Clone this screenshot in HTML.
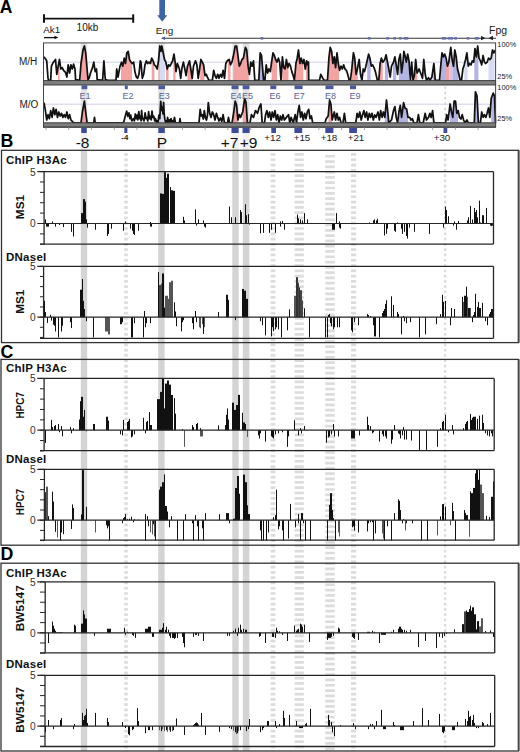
<!DOCTYPE html>
<html><head><meta charset="utf-8"><style>
html,body{margin:0;padding:0;background:#fff;}
body{width:520px;height:752px;overflow:hidden;font-family:"Liberation Sans",sans-serif;}
svg{display:block;}
</style></head><body>
<svg width="520" height="752" viewBox="0 0 520 752">
<rect width="520" height="752" fill="#fff"/>
<rect x="80.8" y="43" width="6.400000000000006" height="84" fill="#e2e2e2"/>
<rect x="80.8" y="133" width="6.400000000000006" height="17" fill="#f0f0f0"/>
<rect x="80.8" y="150" width="6.400000000000006" height="601" fill="#d4d4d4"/>
<rect x="158.2" y="43" width="6.400000000000006" height="84" fill="#e2e2e2"/>
<rect x="158.2" y="133" width="6.400000000000006" height="17" fill="#f0f0f0"/>
<rect x="158.2" y="150" width="6.400000000000006" height="601" fill="#d4d4d4"/>
<rect x="232.3" y="43" width="6.399999999999977" height="84" fill="#e2e2e2"/>
<rect x="232.3" y="133" width="6.399999999999977" height="17" fill="#f0f0f0"/>
<rect x="232.3" y="150" width="6.399999999999977" height="601" fill="#d4d4d4"/>
<rect x="242.8" y="43" width="6.599999999999994" height="84" fill="#e2e2e2"/>
<rect x="242.8" y="133" width="6.599999999999994" height="17" fill="#f0f0f0"/>
<rect x="242.8" y="150" width="6.599999999999994" height="601" fill="#d4d4d4"/>
<line x1="126.0" y1="153.1" x2="126.0" y2="751" stroke="#dcdcdc" stroke-width="3.5999999999999943" stroke-dasharray="2.7 2.59"/>
<line x1="273.0" y1="153.1" x2="273.0" y2="751" stroke="#dcdcdc" stroke-width="4.7999999999999545" stroke-dasharray="2.7 2.59"/>
<line x1="299.20000000000005" y1="153.1" x2="299.20000000000005" y2="751" stroke="#dcdcdc" stroke-width="9.199999999999989" stroke-dasharray="2.7 2.59"/>
<line x1="330.0" y1="154.9" x2="330.0" y2="751" stroke="#dcdcdc" stroke-width="9.600000000000023" stroke-dasharray="2.7 2.59"/>
<line x1="353.6" y1="153.1" x2="353.6" y2="751" stroke="#dcdcdc" stroke-width="5.199999999999989" stroke-dasharray="2.7 2.59"/>
<line x1="445.15" y1="153.1" x2="445.15" y2="751" stroke="#dcdcdc" stroke-width="2.3000000000000114" stroke-dasharray="2.7 2.59"/>
<line x1="43.5" y1="18.6" x2="133.5" y2="18.6" stroke="#111" stroke-width="1.8"/>
<line x1="44" y1="14.3" x2="44" y2="22.8" stroke="#111" stroke-width="2"/>
<line x1="133.2" y1="14.3" x2="133.2" y2="22.8" stroke="#111" stroke-width="2"/>
<text x="76.6" y="30.9" font-family="Liberation Sans, sans-serif" font-size="10" fill="#111">10kb</text>
<text x="43.3" y="33.3" font-family="Liberation Sans, sans-serif" font-size="9.8" fill="#111">Ak1</text>
<line x1="44" y1="37.6" x2="55" y2="37.6" stroke="#111" stroke-width="1.3"/>
<path d="M54.5,35.8 L58.5,37.6 L54.5,39.2 Z" fill="#111"/>
<path d="M159.3,0 L165,0 L165,15.2 L167.3,15.2 L162.2,21.8 L157.2,15.2 L159.3,15.2 Z" fill="#3b66a6"/>
<text x="155.8" y="33.5" font-family="Liberation Sans, sans-serif" font-size="9.8" fill="#222">Eng</text>
<text x="489" y="33.5" font-family="Liberation Sans, sans-serif" font-size="10.5" fill="#222">Fpg</text>
<line x1="162" y1="38.3" x2="496" y2="38.3" stroke="#333" stroke-width="1.1"/>
<path d="M161,38.3 L165,36.6 L165,40 Z" fill="#4a5a9e"/>
<rect x="260.7" y="37" width="2.6" height="2.6" fill="#6670b0"/>
<rect x="367.9" y="37" width="2.6" height="2.6" fill="#6670b0"/>
<rect x="386.2" y="37" width="2.6" height="2.6" fill="#6670b0"/>
<rect x="393.3" y="37" width="2.6" height="2.6" fill="#6670b0"/>
<rect x="399.09999999999997" y="37" width="2.6" height="2.6" fill="#6670b0"/>
<rect x="403.7" y="37" width="2.6" height="2.6" fill="#6670b0"/>
<rect x="405.7" y="37" width="2.6" height="2.6" fill="#6670b0"/>
<rect x="441.7" y="37" width="2.6" height="2.6" fill="#6670b0"/>
<rect x="443.7" y="37" width="2.6" height="2.6" fill="#6670b0"/>
<rect x="447.7" y="37" width="2.6" height="2.6" fill="#6670b0"/>
<rect x="450.4" y="37" width="2.6" height="2.6" fill="#6670b0"/>
<rect x="454.3" y="37" width="2.6" height="2.6" fill="#6670b0"/>
<rect x="466.7" y="37" width="2.6" height="2.6" fill="#6670b0"/>
<rect x="474.7" y="37" width="2.6" height="2.6" fill="#6670b0"/>
<rect x="476.2" y="37" width="2.6" height="2.6" fill="#6670b0"/>
<path d="M481,35.8 L485.5,38.3 L481,40.3 Z" fill="#222"/>
<path d="M493,35.8 L488.5,38.3 L493,40.3 Z" fill="#222"/>
<text x="-0.3" y="12.6" font-family="Liberation Sans, sans-serif" font-size="17.5" font-weight="bold" fill="#000">A</text>
<line x1="43.5" y1="62.2" x2="495.6" y2="62.2" stroke="#c9c9e6" stroke-width="0.9"/>
<line x1="43.5" y1="104.2" x2="495.6" y2="104.2" stroke="#c9c9e6" stroke-width="0.9"/>
<clipPath id="cmh"><polygon points="44.0,80.6 44.0,56.8 46.7,60.8 48.0,78.3 48.7,80.4 50.7,80.4 51.4,66.2 53.4,62.2 55.5,59.5 56.8,74.3 58.2,66.2 59.5,59.5 60.8,69.0 62.2,67.6 63.5,70.3 65.5,72.3 66.9,77.0 68.2,64.9 69.6,73.0 70.9,64.9 72.3,69.0 73.6,64.2 75.0,69.0 75.6,79.7 79.7,80.4 81.0,63.5 83.0,50.0 84.4,46.0 85.7,52.8 87.1,69.0 88.0,79.7 89.1,78.3 90.5,73.0 92.5,67.6 93.8,62.2 95.2,71.6 96.5,69.0 97.2,79.7 102.6,80.4 103.9,60.8 105.3,79.7 108.0,80.4 116.0,80.4 116.7,69.0 118.0,77.0 120.0,66.2 121.5,62.2 122.8,66.2 124.2,58.2 125.5,63.5 126.8,52.8 128.2,51.4 129.5,59.5 130.9,62.2 132.2,63.5 133.6,62.2 134.9,71.6 136.3,77.0 137.6,78.3 139.0,74.3 140.3,60.8 141.0,62.2 142.3,78.3 143.7,74.3 145.0,64.9 146.4,60.8 147.7,63.5 149.0,62.2 150.4,63.5 151.7,58.2 153.1,60.8 154.4,64.9 155.8,66.2 157.1,69.0 158.5,60.8 159.8,46.0 160.9,51.4 161.8,46.0 163.2,52.8 164.5,59.5 165.9,62.2 167.2,69.0 168.6,64.9 169.9,66.2 171.3,63.5 172.6,60.8 174.0,54.1 175.3,63.5 176.0,71.6 177.4,63.5 179.4,69.0 180.7,78.3 182.0,67.6 183.4,62.2 184.8,69.0 186.1,75.6 187.5,66.2 189.5,60.8 190.8,69.0 192.2,78.3 193.5,66.2 195.5,60.8 196.9,64.9 198.2,78.3 199.6,69.0 200.9,59.5 202.3,62.2 203.6,64.9 205.0,75.6 206.3,74.3 207.6,77.7 209.0,80.4 212.4,80.4 213.7,70.3 215.0,75.6 216.4,78.3 217.7,74.3 219.0,78.3 220.4,74.3 221.8,77.0 223.1,70.3 224.5,78.3 225.8,63.5 227.2,60.8 229.2,59.5 230.5,64.9 231.9,62.2 233.2,56.8 235.2,46.0 236.6,46.0 237.9,55.5 239.3,66.2 240.6,63.5 242.0,59.5 243.4,58.2 245.4,47.4 246.7,50.0 248.1,66.2 249.4,74.3 250.8,62.2 252.1,66.2 253.5,60.8 254.8,80.4 258.8,80.4 260.2,52.8 261.5,55.5 263.6,80.4 264.9,80.4 266.2,64.9 267.6,73.0 268.9,69.0 270.3,71.6 271.6,62.2 273.0,52.8 274.3,55.5 275.7,59.5 277.0,62.2 278.4,58.2 279.7,62.2 281.0,80.4 282.4,56.8 283.7,67.6 285.1,69.0 286.4,59.5 287.8,67.6 289.1,63.5 290.5,66.2 291.8,71.6 293.2,75.6 294.5,80.4 295.9,63.5 297.2,58.2 298.5,50.0 299.9,63.5 301.2,58.2 302.6,63.5 303.9,59.5 305.3,69.0 306.6,60.8 308.0,64.9 308.5,62.2 308.7,80.4 319.5,80.4 320.8,74.3 322.8,78.3 324.2,80.4 327.5,80.4 328.9,58.2 330.2,47.4 331.6,51.4 332.9,63.5 334.3,56.8 335.6,67.6 337.0,52.8 338.3,63.5 339.6,70.3 341.0,66.2 342.3,69.0 343.7,64.9 345.0,69.0 346.4,70.3 347.7,74.3 349.1,79.7 350.4,80.4 351.8,69.0 353.4,52.8 354.7,58.2 356.1,74.3 357.4,69.0 359.2,59.5 360.5,74.3 361.9,80.4 363.2,69.0 364.5,71.6 365.9,66.2 368.6,54.1 369.9,58.2 371.3,66.2 372.6,64.9 374.0,67.6 375.4,71.6 377.4,80.4 378.8,80.4 380.1,63.5 381.4,58.2 382.8,62.2 384.8,59.5 386.1,54.8 387.5,62.2 388.8,69.0 390.2,77.0 391.5,66.2 393.5,62.2 394.9,56.8 396.2,64.9 397.6,74.3 398.9,59.5 400.3,54.1 401.6,73.0 403.0,62.2 403.9,51.4 405.0,55.5 406.3,62.2 407.7,54.1 409.0,60.8 410.4,80.4 411.7,62.2 413.0,80.4 414.4,75.6 415.7,59.5 417.1,73.0 419.1,69.0 421.1,74.3 422.5,78.3 423.8,59.5 425.2,74.3 426.5,80.4 428.5,77.7 430.0,80.4 431.9,77.0 433.9,63.5 435.3,80.4 439.5,80.4 440.7,66.2 442.0,52.8 443.4,56.8 444.7,54.1 446.1,58.2 447.4,66.2 448.8,62.2 450.8,47.4 452.1,59.5 453.5,66.2 454.8,50.0 456.2,56.8 457.5,69.0 458.9,74.3 460.2,80.4 461.5,80.4 462.9,69.0 464.2,64.9 465.6,59.5 466.9,52.8 468.3,66.2 469.6,63.5 471.0,64.9 472.3,60.8 473.7,62.2 475.0,48.7 476.4,56.8 477.7,46.0 479.0,58.2 480.4,60.8 481.7,64.9 483.1,55.5 484.4,62.2 485.8,63.5 487.1,62.2 488.5,58.2 489.8,59.5 491.2,58.2 492.5,50.0 493.9,52.8 495.2,50.0 495.2,80.6"/></clipPath>
<g clip-path="url(#cmh)">
<rect x="58" y="43" width="1.5" height="37.599999999999994" fill="#f4a3a3"/>
<rect x="81" y="43" width="7" height="37.599999999999994" fill="#f4a3a3"/>
<rect x="121" y="43" width="11" height="37.599999999999994" fill="#f4a3a3"/>
<rect x="151.7" y="43" width="2.700000000000017" height="37.599999999999994" fill="#f4a3a3"/>
<rect x="158.5" y="43" width="1.3000000000000114" height="37.599999999999994" fill="#f4a3a3"/>
<rect x="159.8" y="43" width="5.399999999999977" height="37.599999999999994" fill="#d6dcf2"/>
<rect x="166" y="43" width="2.5999999999999943" height="37.599999999999994" fill="#f4a3a3"/>
<rect x="173.3" y="43" width="2.0" height="37.599999999999994" fill="#f4a3a3"/>
<rect x="174" y="43" width="1.3000000000000114" height="37.599999999999994" fill="#f4a3a3"/>
<rect x="187.5" y="43" width="4.699999999999989" height="37.599999999999994" fill="#f4a3a3"/>
<rect x="200.2" y="43" width="4.100000000000023" height="37.599999999999994" fill="#f4a3a3"/>
<rect x="227.8" y="43" width="2.6999999999999886" height="37.599999999999994" fill="#f4a3a3"/>
<rect x="233.2" y="43" width="15.5" height="37.599999999999994" fill="#f4a3a3"/>
<rect x="258.8" y="43" width="6.099999999999966" height="37.599999999999994" fill="#b4b4e4"/>
<rect x="271.6" y="43" width="5.399999999999977" height="37.599999999999994" fill="#f4a3a3"/>
<rect x="282.4" y="43" width="6.100000000000023" height="37.599999999999994" fill="#f4a3a3"/>
<rect x="295.9" y="43" width="7.400000000000034" height="37.599999999999994" fill="#f4a3a3"/>
<rect x="306" y="43" width="2.6999999999999886" height="37.599999999999994" fill="#f4a3a3"/>
<rect x="328.2" y="43" width="10.800000000000011" height="37.599999999999994" fill="#f4a3a3"/>
<rect x="351.8" y="43" width="6.0" height="37.599999999999994" fill="#f4a3a3"/>
<rect x="367.2" y="43" width="3.400000000000034" height="37.599999999999994" fill="#b4b4e4"/>
<rect x="379.4" y="43" width="3.400000000000034" height="37.599999999999994" fill="#f4a3a3"/>
<rect x="384.8" y="43" width="3.3999999999999773" height="37.599999999999994" fill="#b4b4e4"/>
<rect x="392.9" y="43" width="3.3000000000000114" height="37.599999999999994" fill="#b4b4e4"/>
<rect x="398.9" y="43" width="4.100000000000023" height="37.599999999999994" fill="#b4b4e4"/>
<rect x="403" y="43" width="6" height="37.599999999999994" fill="#b4b4e4"/>
<rect x="414.4" y="43" width="2.7000000000000455" height="37.599999999999994" fill="#f4a3a3"/>
<rect x="432.6" y="43" width="2.6999999999999886" height="37.599999999999994" fill="#b4b4e4"/>
<rect x="440.5" y="43" width="5.5" height="37.599999999999994" fill="#b4b4e4"/>
<rect x="446" y="43" width="3.5" height="37.599999999999994" fill="#f4a3a3"/>
<rect x="449.5" y="43" width="3.0" height="37.599999999999994" fill="#d9c2dc"/>
<rect x="452.5" y="43" width="6.0" height="37.599999999999994" fill="#b4b4e4"/>
<rect x="464.2" y="43" width="3.400000000000034" height="37.599999999999994" fill="#d6dcf2"/>
<rect x="474.3" y="43" width="4.099999999999966" height="37.599999999999994" fill="#b4b4e4"/>
<rect x="488.5" y="43" width="6.0" height="37.599999999999994" fill="#d6dcf2"/>
</g>
<polyline points="44.0,56.8 46.7,60.8 48.0,78.3 48.7,80.4 50.7,80.4 51.4,66.2 53.4,62.2 55.5,59.5 56.8,74.3 58.2,66.2 59.5,59.5 60.8,69.0 62.2,67.6 63.5,70.3 65.5,72.3 66.9,77.0 68.2,64.9 69.6,73.0 70.9,64.9 72.3,69.0 73.6,64.2 75.0,69.0 75.6,79.7 79.7,80.4 81.0,63.5 83.0,50.0 84.4,46.0 85.7,52.8 87.1,69.0 88.0,79.7 89.1,78.3 90.5,73.0 92.5,67.6 93.8,62.2 95.2,71.6 96.5,69.0 97.2,79.7 102.6,80.4 103.9,60.8 105.3,79.7 108.0,80.4 116.0,80.4 116.7,69.0 118.0,77.0 120.0,66.2 121.5,62.2 122.8,66.2 124.2,58.2 125.5,63.5 126.8,52.8 128.2,51.4 129.5,59.5 130.9,62.2 132.2,63.5 133.6,62.2 134.9,71.6 136.3,77.0 137.6,78.3 139.0,74.3 140.3,60.8 141.0,62.2 142.3,78.3 143.7,74.3 145.0,64.9 146.4,60.8 147.7,63.5 149.0,62.2 150.4,63.5 151.7,58.2 153.1,60.8 154.4,64.9 155.8,66.2 157.1,69.0 158.5,60.8 159.8,46.0 160.9,51.4 161.8,46.0 163.2,52.8 164.5,59.5 165.9,62.2 167.2,69.0 168.6,64.9 169.9,66.2 171.3,63.5 172.6,60.8 174.0,54.1 175.3,63.5 176.0,71.6 177.4,63.5 179.4,69.0 180.7,78.3 182.0,67.6 183.4,62.2 184.8,69.0 186.1,75.6 187.5,66.2 189.5,60.8 190.8,69.0 192.2,78.3 193.5,66.2 195.5,60.8 196.9,64.9 198.2,78.3 199.6,69.0 200.9,59.5 202.3,62.2 203.6,64.9 205.0,75.6 206.3,74.3 207.6,77.7 209.0,80.4 212.4,80.4 213.7,70.3 215.0,75.6 216.4,78.3 217.7,74.3 219.0,78.3 220.4,74.3 221.8,77.0 223.1,70.3 224.5,78.3 225.8,63.5 227.2,60.8 229.2,59.5 230.5,64.9 231.9,62.2 233.2,56.8 235.2,46.0 236.6,46.0 237.9,55.5 239.3,66.2 240.6,63.5 242.0,59.5 243.4,58.2 245.4,47.4 246.7,50.0 248.1,66.2 249.4,74.3 250.8,62.2 252.1,66.2 253.5,60.8 254.8,80.4 258.8,80.4 260.2,52.8 261.5,55.5 263.6,80.4 264.9,80.4 266.2,64.9 267.6,73.0 268.9,69.0 270.3,71.6 271.6,62.2 273.0,52.8 274.3,55.5 275.7,59.5 277.0,62.2 278.4,58.2 279.7,62.2 281.0,80.4 282.4,56.8 283.7,67.6 285.1,69.0 286.4,59.5 287.8,67.6 289.1,63.5 290.5,66.2 291.8,71.6 293.2,75.6 294.5,80.4 295.9,63.5 297.2,58.2 298.5,50.0 299.9,63.5 301.2,58.2 302.6,63.5 303.9,59.5 305.3,69.0 306.6,60.8 308.0,64.9 308.5,62.2 308.7,80.4 319.5,80.4 320.8,74.3 322.8,78.3 324.2,80.4 327.5,80.4 328.9,58.2 330.2,47.4 331.6,51.4 332.9,63.5 334.3,56.8 335.6,67.6 337.0,52.8 338.3,63.5 339.6,70.3 341.0,66.2 342.3,69.0 343.7,64.9 345.0,69.0 346.4,70.3 347.7,74.3 349.1,79.7 350.4,80.4 351.8,69.0 353.4,52.8 354.7,58.2 356.1,74.3 357.4,69.0 359.2,59.5 360.5,74.3 361.9,80.4 363.2,69.0 364.5,71.6 365.9,66.2 368.6,54.1 369.9,58.2 371.3,66.2 372.6,64.9 374.0,67.6 375.4,71.6 377.4,80.4 378.8,80.4 380.1,63.5 381.4,58.2 382.8,62.2 384.8,59.5 386.1,54.8 387.5,62.2 388.8,69.0 390.2,77.0 391.5,66.2 393.5,62.2 394.9,56.8 396.2,64.9 397.6,74.3 398.9,59.5 400.3,54.1 401.6,73.0 403.0,62.2 403.9,51.4 405.0,55.5 406.3,62.2 407.7,54.1 409.0,60.8 410.4,80.4 411.7,62.2 413.0,80.4 414.4,75.6 415.7,59.5 417.1,73.0 419.1,69.0 421.1,74.3 422.5,78.3 423.8,59.5 425.2,74.3 426.5,80.4 428.5,77.7 430.0,80.4 431.9,77.0 433.9,63.5 435.3,80.4 439.5,80.4 440.7,66.2 442.0,52.8 443.4,56.8 444.7,54.1 446.1,58.2 447.4,66.2 448.8,62.2 450.8,47.4 452.1,59.5 453.5,66.2 454.8,50.0 456.2,56.8 457.5,69.0 458.9,74.3 460.2,80.4 461.5,80.4 462.9,69.0 464.2,64.9 465.6,59.5 466.9,52.8 468.3,66.2 469.6,63.5 471.0,64.9 472.3,60.8 473.7,62.2 475.0,48.7 476.4,56.8 477.7,46.0 479.0,58.2 480.4,60.8 481.7,64.9 483.1,55.5 484.4,62.2 485.8,63.5 487.1,62.2 488.5,58.2 489.8,59.5 491.2,58.2 492.5,50.0 493.9,52.8 495.2,50.0" fill="none" stroke="#111" stroke-width="1.75" stroke-linejoin="round"/>
<line x1="445.2" y1="86.5" x2="445.2" y2="122" stroke="#cfcfcf" stroke-width="1.6" stroke-dasharray="2.4 2.9"/>
<clipPath id="cmo"><polygon points="44.0,122.8 44.0,102.6 45.4,110.6 46.7,120.0 48.0,114.7 49.4,118.7 50.7,110.6 52.1,117.4 53.4,108.0 54.8,114.7 56.1,109.3 57.5,117.4 58.8,112.0 60.2,116.0 61.5,113.3 62.9,117.4 64.2,114.7 65.5,117.4 66.9,112.0 68.2,118.7 69.6,114.7 70.9,120.0 72.3,121.4 73.6,122.8 81.0,122.8 82.4,112.0 84.4,101.2 85.7,112.0 87.1,122.8 93.8,122.8 94.5,117.4 95.2,122.8 122.8,122.8 123.8,122.1 124.9,117.4 126.7,111.1 127.8,116.3 129.0,112.8 129.9,118.6 130.7,115.1 131.8,120.9 133.6,118.6 134.4,120.9 135.3,114.0 136.2,118.6 137.0,115.1 137.8,119.8 138.8,111.7 139.7,118.6 140.5,116.3 141.1,120.9 141.6,110.5 142.2,117.4 142.8,118.6 144.0,120.9 145.1,112.8 146.0,118.6 146.8,117.4 147.8,120.9 148.6,111.7 149.4,118.6 150.3,116.3 151.2,119.8 152.0,111.1 152.8,117.4 153.8,116.3 154.7,120.9 155.5,118.6 156.4,122.1 157.2,120.9 158.1,122.1 158.9,115.1 159.8,118.6 160.7,101.3 161.6,110.5 162.4,107.1 163.0,114.0 163.6,102.5 164.1,112.8 164.7,118.6 165.5,122.1 166.4,120.9 167.0,122.1 167.6,117.4 168.4,122.1 169.3,119.8 170.1,122.1 171.1,118.6 171.9,122.1 172.8,120.9 173.6,122.1 174.5,117.4 175.3,122.1 176.0,122.8 179.5,122.8 180.0,118.7 180.6,122.8 199.0,122.8 200.2,109.3 201.2,116.0 202.3,114.7 203.3,119.0 204.3,110.6 205.5,118.0 206.5,120.0 207.5,115.0 208.3,102.6 209.7,113.3 211.0,117.4 212.4,112.0 213.7,114.7 215.0,120.0 216.4,113.3 217.7,117.4 219.0,121.0 220.4,118.0 221.8,121.5 223.1,114.7 224.5,122.8 227.5,122.8 228.5,117.4 229.5,122.8 232.0,122.8 233.2,116.0 235.2,101.2 236.6,105.3 237.9,120.0 239.3,114.7 240.5,117.4 242.7,112.0 244.7,98.5 246.0,102.6 247.4,122.8 250.0,122.8 251.4,114.7 253.5,117.4 255.5,110.6 257.5,113.3 259.5,106.6 260.9,104.0 262.2,122.8 264.5,122.8 265.6,114.7 266.9,110.6 268.3,117.4 269.6,112.0 271.0,120.0 272.3,112.0 273.6,117.4 275.0,110.6 276.3,120.0 277.7,114.7 279.0,122.8 280.4,116.0 281.7,120.0 283.0,114.7 284.4,120.0 286.4,117.4 288.5,114.7 289.8,122.8 291.1,117.4 293.2,122.8 295.2,114.7 296.5,122.8 297.9,112.0 299.2,105.3 300.6,117.4 301.9,112.0 303.3,120.0 304.6,113.3 306.0,118.7 307.3,112.0 308.7,109.3 310.0,118.7 311.4,116.0 312.7,122.8 325.0,122.8 326.2,118.7 328.2,116.0 329.6,100.0 330.9,104.0 332.2,120.0 334.3,112.0 335.6,120.0 337.0,113.3 338.3,120.0 339.6,117.4 341.0,122.8 343.0,122.8 344.4,113.3 345.7,122.8 355.8,122.8 357.1,113.3 358.5,117.4 359.8,112.0 361.2,120.0 362.5,115.0 363.9,110.6 365.2,117.4 366.6,112.0 367.9,120.0 369.3,113.3 370.6,117.4 372.0,113.3 373.3,120.0 374.7,115.0 376.0,117.4 378.0,112.0 379.4,120.0 380.7,110.6 382.1,117.4 383.4,112.0 384.8,117.4 386.5,100.0 387.8,112.0 388.8,122.8 391.5,120.0 393.5,110.6 394.9,106.6 396.2,117.4 397.6,122.8 398.9,112.0 400.3,105.3 401.6,117.4 403.6,102.6 405.0,108.0 406.7,109.3 408.0,117.4 409.7,117.4 411.0,120.0 412.4,118.7 413.7,122.8 417.0,122.8 418.4,114.7 419.8,122.8 423.2,122.8 425.2,113.3 426.5,120.0 428.5,117.4 429.9,113.3 431.2,117.4 432.6,110.6 433.9,122.8 445.4,122.8 446.0,120.0 446.7,114.7 448.1,120.0 450.1,104.0 451.5,112.0 452.8,117.4 454.1,101.2 455.5,101.2 456.8,113.3 458.2,110.6 459.5,117.4 460.9,119.0 462.2,114.7 463.6,120.0 464.9,122.8 466.9,120.0 468.3,122.8 474.3,122.8 475.4,91.8 477.0,95.9 478.4,122.8 480.4,122.8 481.7,112.0 483.1,117.4 484.4,114.7 485.8,117.4 487.1,113.3 488.5,108.0 489.8,117.4 491.2,98.5 493.2,93.1 494.5,95.9 495.5,122.8 495.5,122.8"/></clipPath>
<g clip-path="url(#cmo)">
<rect x="81" y="85.5" width="7" height="37.3" fill="#f4a3a3"/>
<rect x="159.8" y="85.5" width="3.1999999999999886" height="37.3" fill="#d6dcf2"/>
<rect x="233.2" y="85.5" width="4.800000000000011" height="37.3" fill="#f4a3a3"/>
<rect x="242.7" y="85.5" width="4.700000000000017" height="37.3" fill="#f4a3a3"/>
<rect x="328.5" y="85.5" width="3.5" height="37.3" fill="#f4a3a3"/>
<rect x="384.8" y="85.5" width="4.0" height="37.3" fill="#b4b4e4"/>
<rect x="399" y="85.5" width="9" height="37.3" fill="#b4b4e4"/>
<rect x="450" y="85.5" width="8" height="37.3" fill="#b4b4e4"/>
<rect x="474.3" y="85.5" width="4.099999999999966" height="37.3" fill="#b4b4e4"/>
<rect x="491.2" y="85.5" width="4.0" height="37.3" fill="#b4b4e4"/>
</g>
<polyline points="44.0,102.6 45.4,110.6 46.7,120.0 48.0,114.7 49.4,118.7 50.7,110.6 52.1,117.4 53.4,108.0 54.8,114.7 56.1,109.3 57.5,117.4 58.8,112.0 60.2,116.0 61.5,113.3 62.9,117.4 64.2,114.7 65.5,117.4 66.9,112.0 68.2,118.7 69.6,114.7 70.9,120.0 72.3,121.4 73.6,122.8 81.0,122.8 82.4,112.0 84.4,101.2 85.7,112.0 87.1,122.8 93.8,122.8 94.5,117.4 95.2,122.8 122.8,122.8 123.8,122.1 124.9,117.4 126.7,111.1 127.8,116.3 129.0,112.8 129.9,118.6 130.7,115.1 131.8,120.9 133.6,118.6 134.4,120.9 135.3,114.0 136.2,118.6 137.0,115.1 137.8,119.8 138.8,111.7 139.7,118.6 140.5,116.3 141.1,120.9 141.6,110.5 142.2,117.4 142.8,118.6 144.0,120.9 145.1,112.8 146.0,118.6 146.8,117.4 147.8,120.9 148.6,111.7 149.4,118.6 150.3,116.3 151.2,119.8 152.0,111.1 152.8,117.4 153.8,116.3 154.7,120.9 155.5,118.6 156.4,122.1 157.2,120.9 158.1,122.1 158.9,115.1 159.8,118.6 160.7,101.3 161.6,110.5 162.4,107.1 163.0,114.0 163.6,102.5 164.1,112.8 164.7,118.6 165.5,122.1 166.4,120.9 167.0,122.1 167.6,117.4 168.4,122.1 169.3,119.8 170.1,122.1 171.1,118.6 171.9,122.1 172.8,120.9 173.6,122.1 174.5,117.4 175.3,122.1 176.0,122.8 179.5,122.8 180.0,118.7 180.6,122.8 199.0,122.8 200.2,109.3 201.2,116.0 202.3,114.7 203.3,119.0 204.3,110.6 205.5,118.0 206.5,120.0 207.5,115.0 208.3,102.6 209.7,113.3 211.0,117.4 212.4,112.0 213.7,114.7 215.0,120.0 216.4,113.3 217.7,117.4 219.0,121.0 220.4,118.0 221.8,121.5 223.1,114.7 224.5,122.8 227.5,122.8 228.5,117.4 229.5,122.8 232.0,122.8 233.2,116.0 235.2,101.2 236.6,105.3 237.9,120.0 239.3,114.7 240.5,117.4 242.7,112.0 244.7,98.5 246.0,102.6 247.4,122.8 250.0,122.8 251.4,114.7 253.5,117.4 255.5,110.6 257.5,113.3 259.5,106.6 260.9,104.0 262.2,122.8 264.5,122.8 265.6,114.7 266.9,110.6 268.3,117.4 269.6,112.0 271.0,120.0 272.3,112.0 273.6,117.4 275.0,110.6 276.3,120.0 277.7,114.7 279.0,122.8 280.4,116.0 281.7,120.0 283.0,114.7 284.4,120.0 286.4,117.4 288.5,114.7 289.8,122.8 291.1,117.4 293.2,122.8 295.2,114.7 296.5,122.8 297.9,112.0 299.2,105.3 300.6,117.4 301.9,112.0 303.3,120.0 304.6,113.3 306.0,118.7 307.3,112.0 308.7,109.3 310.0,118.7 311.4,116.0 312.7,122.8 325.0,122.8 326.2,118.7 328.2,116.0 329.6,100.0 330.9,104.0 332.2,120.0 334.3,112.0 335.6,120.0 337.0,113.3 338.3,120.0 339.6,117.4 341.0,122.8 343.0,122.8 344.4,113.3 345.7,122.8 355.8,122.8 357.1,113.3 358.5,117.4 359.8,112.0 361.2,120.0 362.5,115.0 363.9,110.6 365.2,117.4 366.6,112.0 367.9,120.0 369.3,113.3 370.6,117.4 372.0,113.3 373.3,120.0 374.7,115.0 376.0,117.4 378.0,112.0 379.4,120.0 380.7,110.6 382.1,117.4 383.4,112.0 384.8,117.4 386.5,100.0 387.8,112.0 388.8,122.8 391.5,120.0 393.5,110.6 394.9,106.6 396.2,117.4 397.6,122.8 398.9,112.0 400.3,105.3 401.6,117.4 403.6,102.6 405.0,108.0 406.7,109.3 408.0,117.4 409.7,117.4 411.0,120.0 412.4,118.7 413.7,122.8 417.0,122.8 418.4,114.7 419.8,122.8 423.2,122.8 425.2,113.3 426.5,120.0 428.5,117.4 429.9,113.3 431.2,117.4 432.6,110.6 433.9,122.8 445.4,122.8 446.0,120.0 446.7,114.7 448.1,120.0 450.1,104.0 451.5,112.0 452.8,117.4 454.1,101.2 455.5,101.2 456.8,113.3 458.2,110.6 459.5,117.4 460.9,119.0 462.2,114.7 463.6,120.0 464.9,122.8 466.9,120.0 468.3,122.8 474.3,122.8 475.4,91.8 477.0,95.9 478.4,122.8 480.4,122.8 481.7,112.0 483.1,117.4 484.4,114.7 485.8,117.4 487.1,113.3 488.5,108.0 489.8,117.4 491.2,98.5 493.2,93.1 494.5,95.9 495.5,122.8" fill="none" stroke="#111" stroke-width="1.75" stroke-linejoin="round"/>
<rect x="43.5" y="80.6" width="452.1" height="4.4" fill="#7e7e7e" stroke="#333" stroke-width="0.9"/>
<rect x="43.5" y="122.8" width="452.1" height="4.4" fill="#7e7e7e" stroke="#333" stroke-width="0.9"/>
<rect x="43.5" y="42.9" width="452.1" height="84.19999999999999" fill="none" stroke="#444" stroke-width="1"/>
<line x1="46" y1="127.2" x2="46" y2="130" stroke="#888" stroke-width="0.8"/>
<line x1="68.74" y1="127.2" x2="68.74" y2="130" stroke="#888" stroke-width="0.8"/>
<line x1="91.47999999999999" y1="127.2" x2="91.47999999999999" y2="130" stroke="#888" stroke-width="0.8"/>
<line x1="114.21999999999998" y1="127.2" x2="114.21999999999998" y2="130" stroke="#888" stroke-width="0.8"/>
<line x1="136.95999999999998" y1="127.2" x2="136.95999999999998" y2="130" stroke="#888" stroke-width="0.8"/>
<line x1="159.7" y1="127.2" x2="159.7" y2="130" stroke="#888" stroke-width="0.8"/>
<line x1="182.44" y1="127.2" x2="182.44" y2="130" stroke="#888" stroke-width="0.8"/>
<line x1="205.18" y1="127.2" x2="205.18" y2="130" stroke="#888" stroke-width="0.8"/>
<line x1="227.92000000000002" y1="127.2" x2="227.92000000000002" y2="130" stroke="#888" stroke-width="0.8"/>
<line x1="250.66000000000003" y1="127.2" x2="250.66000000000003" y2="130" stroke="#888" stroke-width="0.8"/>
<line x1="273.40000000000003" y1="127.2" x2="273.40000000000003" y2="130" stroke="#888" stroke-width="0.8"/>
<line x1="296.14000000000004" y1="127.2" x2="296.14000000000004" y2="130" stroke="#888" stroke-width="0.8"/>
<line x1="318.88000000000005" y1="127.2" x2="318.88000000000005" y2="130" stroke="#888" stroke-width="0.8"/>
<line x1="341.62000000000006" y1="127.2" x2="341.62000000000006" y2="130" stroke="#888" stroke-width="0.8"/>
<line x1="364.36000000000007" y1="127.2" x2="364.36000000000007" y2="130" stroke="#888" stroke-width="0.8"/>
<line x1="387.1000000000001" y1="127.2" x2="387.1000000000001" y2="130" stroke="#888" stroke-width="0.8"/>
<line x1="409.8400000000001" y1="127.2" x2="409.8400000000001" y2="130" stroke="#888" stroke-width="0.8"/>
<line x1="432.5800000000001" y1="127.2" x2="432.5800000000001" y2="130" stroke="#888" stroke-width="0.8"/>
<line x1="455.3200000000001" y1="127.2" x2="455.3200000000001" y2="130" stroke="#888" stroke-width="0.8"/>
<line x1="478.0600000000001" y1="127.2" x2="478.0600000000001" y2="130" stroke="#888" stroke-width="0.8"/>
<rect x="81.6" y="85.4" width="5.700000000000003" height="3.8" fill="#4a5a9e"/>
<rect x="124.8" y="85.4" width="3.0" height="3.8" fill="#4a5a9e"/>
<rect x="158.5" y="85.4" width="6.5" height="3.8" fill="#4a5a9e"/>
<rect x="231.5" y="85.4" width="7.0" height="3.8" fill="#4a5a9e"/>
<rect x="242.7" y="85.4" width="6.700000000000017" height="3.8" fill="#4a5a9e"/>
<rect x="270.3" y="85.4" width="6.0" height="3.8" fill="#4a5a9e"/>
<rect x="294.5" y="85.4" width="8.100000000000023" height="3.8" fill="#4a5a9e"/>
<rect x="325.5" y="85.4" width="8.0" height="3.8" fill="#4a5a9e"/>
<rect x="350" y="85.4" width="6" height="3.8" fill="#4a5a9e"/>
<text x="85" y="99" font-family="Liberation Sans, sans-serif" font-size="9" text-anchor="middle" fill="#5a6494">E1</text>
<text x="128" y="99" font-family="Liberation Sans, sans-serif" font-size="9" text-anchor="middle" fill="#5a6494">E2</text>
<text x="164.2" y="99" font-family="Liberation Sans, sans-serif" font-size="9" text-anchor="middle" fill="#5a6494">E3</text>
<text x="236" y="99" font-family="Liberation Sans, sans-serif" font-size="9" text-anchor="middle" fill="#5a6494">E4</text>
<text x="247.5" y="99" font-family="Liberation Sans, sans-serif" font-size="9" text-anchor="middle" fill="#5a6494">E5</text>
<text x="275" y="99" font-family="Liberation Sans, sans-serif" font-size="9" text-anchor="middle" fill="#5a6494">E6</text>
<text x="299.3" y="99" font-family="Liberation Sans, sans-serif" font-size="9" text-anchor="middle" fill="#5a6494">E7</text>
<text x="330.5" y="99" font-family="Liberation Sans, sans-serif" font-size="9" text-anchor="middle" fill="#5a6494">E8</text>
<text x="355" y="99" font-family="Liberation Sans, sans-serif" font-size="9" text-anchor="middle" fill="#5a6494">E9</text>
<text x="37.3" y="65.3" font-family="Liberation Sans, sans-serif" font-size="10" text-anchor="end" fill="#222">M/H</text>
<text x="38.3" y="107.7" font-family="Liberation Sans, sans-serif" font-size="10" text-anchor="end" fill="#222">M/O</text>
<text x="497.3" y="47" font-family="Liberation Sans, sans-serif" font-size="7.4" fill="#222">100%</text>
<text x="497.3" y="79" font-family="Liberation Sans, sans-serif" font-size="7.4" fill="#222">25%</text>
<text x="497.3" y="89.5" font-family="Liberation Sans, sans-serif" font-size="7.4" fill="#222">100%</text>
<text x="497.3" y="121" font-family="Liberation Sans, sans-serif" font-size="7.4" fill="#222">25%</text>
<rect x="81.2" y="127.8" width="5.599999999999994" height="5.2" fill="#3f4c9c"/>
<rect x="124.3" y="127.8" width="3.1000000000000085" height="5.2" fill="#3f4c9c"/>
<rect x="158.3" y="127.8" width="6.5" height="5.2" fill="#3f4c9c"/>
<rect x="231.5" y="127.8" width="7.199999999999989" height="5.2" fill="#3f4c9c"/>
<rect x="242.5" y="127.8" width="7.199999999999989" height="5.2" fill="#3f4c9c"/>
<rect x="271.3" y="127.8" width="4.699999999999989" height="5.2" fill="#3f4c9c"/>
<rect x="294.4" y="127.8" width="7.800000000000011" height="5.2" fill="#3f4c9c"/>
<rect x="325.3" y="127.8" width="8.099999999999966" height="5.2" fill="#3f4c9c"/>
<rect x="349.2" y="127.8" width="7.800000000000011" height="5.2" fill="#3f4c9c"/>
<rect x="443.5" y="127.8" width="3.8000000000000114" height="5.2" fill="#3f4c9c"/>
<text x="82.6" y="147.6" font-family="Liberation Sans, sans-serif" font-size="15.5" text-anchor="middle" fill="#111">-8</text>
<text x="162" y="147.6" font-family="Liberation Sans, sans-serif" font-size="15.5" text-anchor="middle" fill="#111">P</text>
<text x="229.5" y="147.6" font-family="Liberation Sans, sans-serif" font-size="15.5" text-anchor="middle" fill="#111">+7</text>
<text x="248.5" y="147.6" font-family="Liberation Sans, sans-serif" font-size="15.5" text-anchor="middle" fill="#111">+9</text>
<text x="272.6" y="141.3" font-family="Liberation Sans, sans-serif" font-size="9.8" text-anchor="middle" fill="#222">+12</text>
<text x="302" y="141.3" font-family="Liberation Sans, sans-serif" font-size="9.8" text-anchor="middle" fill="#222">+15</text>
<text x="329" y="141.3" font-family="Liberation Sans, sans-serif" font-size="9.8" text-anchor="middle" fill="#222">+18</text>
<text x="356" y="141.3" font-family="Liberation Sans, sans-serif" font-size="9.8" text-anchor="middle" fill="#222">+21</text>
<text x="442" y="141.3" font-family="Liberation Sans, sans-serif" font-size="9.8" text-anchor="middle" fill="#222">+30</text>
<text x="124.8" y="140.4" font-family="Liberation Sans, sans-serif" font-size="7.8" font-weight="bold" text-anchor="middle" fill="#222">-4</text>
<rect x="1.5" y="150.3" width="517.1" height="192.3" fill="none" stroke="#333" stroke-width="1.3"/>
<line x1="518.6" y1="150.3" x2="518.6" y2="342.6" stroke="#444" stroke-width="1.8"/>
<text x="0.6" y="146.8" font-family="Liberation Sans, sans-serif" font-size="17.8" font-weight="bold" fill="#000">B</text>
<rect x="45.00" y="219.35" width="1.00" height="4.15" fill="#111"/>
<rect x="46.00" y="223.50" width="1.00" height="3.11" fill="#111"/>
<rect x="47.00" y="223.50" width="1.00" height="3.11" fill="#111"/>
<rect x="48.00" y="223.50" width="1.00" height="3.11" fill="#111"/>
<rect x="52.00" y="221.42" width="1.00" height="2.08" fill="#111"/>
<rect x="55.00" y="223.50" width="1.00" height="3.11" fill="#111"/>
<rect x="59.00" y="223.50" width="1.00" height="1.56" fill="#111"/>
<rect x="63.00" y="223.50" width="1.00" height="3.63" fill="#111"/>
<rect x="71.00" y="223.50" width="1.00" height="8.30" fill="#111"/>
<rect x="73.00" y="223.50" width="1.00" height="12.98" fill="#111"/>
<rect x="81.00" y="213.12" width="2.00" height="10.38" fill="#111"/>
<rect x="83.00" y="199.11" width="2.00" height="24.39" fill="#111"/>
<rect x="85.00" y="201.70" width="1.00" height="21.80" fill="#111"/>
<rect x="86.00" y="219.35" width="1.00" height="4.15" fill="#111"/>
<rect x="87.00" y="223.50" width="1.00" height="4.15" fill="#111"/>
<rect x="95.00" y="223.50" width="1.00" height="6.23" fill="#111"/>
<rect x="107.00" y="223.50" width="1.00" height="12.46" fill="#111"/>
<rect x="108.00" y="223.50" width="1.00" height="10.38" fill="#111"/>
<rect x="111.00" y="223.50" width="1.00" height="5.19" fill="#111"/>
<rect x="123.00" y="223.50" width="1.00" height="7.27" fill="#111"/>
<rect x="125.00" y="221.42" width="1.00" height="2.08" fill="#111"/>
<rect x="130.00" y="223.50" width="1.00" height="5.19" fill="#111"/>
<rect x="132.00" y="223.50" width="1.00" height="7.27" fill="#111"/>
<rect x="133.00" y="223.50" width="1.00" height="10.38" fill="#111"/>
<rect x="134.00" y="223.50" width="1.00" height="11.42" fill="#111"/>
<rect x="138.00" y="223.50" width="1.00" height="7.27" fill="#111"/>
<rect x="150.00" y="221.94" width="1.00" height="1.56" fill="#111"/>
<rect x="150.00" y="223.50" width="1.00" height="3.11" fill="#111"/>
<rect x="151.00" y="223.50" width="1.00" height="3.11" fill="#111"/>
<rect x="160.00" y="193.40" width="2.00" height="30.10" fill="#111"/>
<rect x="162.00" y="193.92" width="2.00" height="29.58" fill="#111"/>
<rect x="164.00" y="172.12" width="2.00" height="51.38" fill="#111"/>
<rect x="166.00" y="177.83" width="1.00" height="45.67" fill="#111"/>
<rect x="167.00" y="173.68" width="2.00" height="49.82" fill="#111"/>
<rect x="170.00" y="187.17" width="1.00" height="36.33" fill="#111"/>
<rect x="171.00" y="190.28" width="2.00" height="33.22" fill="#111"/>
<rect x="173.00" y="190.80" width="2.00" height="32.70" fill="#111"/>
<rect x="183.00" y="216.75" width="1.00" height="6.75" fill="#111"/>
<rect x="184.00" y="220.39" width="1.00" height="3.11" fill="#111"/>
<rect x="195.00" y="209.38" width="1.00" height="14.12" fill="#111"/>
<rect x="195.00" y="211.04" width="1.00" height="12.46" fill="#111"/>
<rect x="196.00" y="223.50" width="1.00" height="2.08" fill="#111"/>
<rect x="198.00" y="219.35" width="1.00" height="4.15" fill="#111"/>
<rect x="203.00" y="220.39" width="1.00" height="3.11" fill="#111"/>
<rect x="204.00" y="223.50" width="1.00" height="3.11" fill="#111"/>
<rect x="205.00" y="223.50" width="1.00" height="4.15" fill="#111"/>
<rect x="220.00" y="222.98" width="1.00" height="0.52" fill="#111"/>
<rect x="229.00" y="206.58" width="1.00" height="16.92" fill="#111"/>
<rect x="231.00" y="217.27" width="1.00" height="6.23" fill="#111"/>
<rect x="235.00" y="217.27" width="1.00" height="6.23" fill="#111"/>
<rect x="240.00" y="210.01" width="1.00" height="13.49" fill="#111"/>
<rect x="241.00" y="212.08" width="1.00" height="11.42" fill="#111"/>
<rect x="245.00" y="204.30" width="1.00" height="19.20" fill="#111"/>
<rect x="246.00" y="215.20" width="1.00" height="8.30" fill="#111"/>
<rect x="248.00" y="214.16" width="1.00" height="9.34" fill="#111"/>
<rect x="249.00" y="223.50" width="1.00" height="1.04" fill="#111"/>
<rect x="260.00" y="223.50" width="1.00" height="9.86" fill="#111"/>
<rect x="263.00" y="223.50" width="1.00" height="9.34" fill="#111"/>
<rect x="269.00" y="223.50" width="1.00" height="9.34" fill="#111"/>
<rect x="271.00" y="223.50" width="1.00" height="6.23" fill="#111"/>
<rect x="275.00" y="223.50" width="1.00" height="9.34" fill="#111"/>
<rect x="280.00" y="221.42" width="1.00" height="2.08" fill="#111"/>
<rect x="280.00" y="223.50" width="1.00" height="3.11" fill="#111"/>
<rect x="282.00" y="220.91" width="1.00" height="2.60" fill="#111"/>
<rect x="284.00" y="223.50" width="1.00" height="6.23" fill="#111"/>
<rect x="292.00" y="223.19" width="1.00" height="0.31" fill="#111"/>
<rect x="297.00" y="214.57" width="1.00" height="8.93" fill="#111"/>
<rect x="298.00" y="218.31" width="1.00" height="5.19" fill="#111"/>
<rect x="300.00" y="219.35" width="1.00" height="4.15" fill="#111"/>
<rect x="302.00" y="220.39" width="1.00" height="3.11" fill="#111"/>
<rect x="304.00" y="213.12" width="1.00" height="10.38" fill="#111"/>
<rect x="307.00" y="219.35" width="1.00" height="4.15" fill="#111"/>
<rect x="332.00" y="223.50" width="3.00" height="6.23" fill="#111"/>
<rect x="336.00" y="213.12" width="1.00" height="10.38" fill="#111"/>
<rect x="339.00" y="221.42" width="1.00" height="2.08" fill="#111"/>
<rect x="339.00" y="223.50" width="1.00" height="4.15" fill="#111"/>
<rect x="340.00" y="223.50" width="1.00" height="5.19" fill="#111"/>
<rect x="369.00" y="222.46" width="1.00" height="1.04" fill="#111"/>
<rect x="373.00" y="220.39" width="1.00" height="3.11" fill="#111"/>
<rect x="374.00" y="219.35" width="1.00" height="4.15" fill="#111"/>
<rect x="376.00" y="220.39" width="1.00" height="3.11" fill="#111"/>
<rect x="377.00" y="218.83" width="1.00" height="4.67" fill="#111"/>
<rect x="384.00" y="223.50" width="1.00" height="12.04" fill="#111"/>
<rect x="386.00" y="223.50" width="1.00" height="10.38" fill="#111"/>
<rect x="387.00" y="223.50" width="1.00" height="5.19" fill="#111"/>
<rect x="394.00" y="223.50" width="1.00" height="7.27" fill="#111"/>
<rect x="395.00" y="223.50" width="1.00" height="8.30" fill="#111"/>
<rect x="397.00" y="222.46" width="1.00" height="1.04" fill="#111"/>
<rect x="401.00" y="223.50" width="1.00" height="5.19" fill="#111"/>
<rect x="402.00" y="223.50" width="1.00" height="10.38" fill="#111"/>
<rect x="404.00" y="223.50" width="1.00" height="8.30" fill="#111"/>
<rect x="406.00" y="223.50" width="1.00" height="12.46" fill="#111"/>
<rect x="407.00" y="223.50" width="1.00" height="15.05" fill="#111"/>
<rect x="409.00" y="223.50" width="1.00" height="4.15" fill="#111"/>
<rect x="414.00" y="223.50" width="1.00" height="8.30" fill="#111"/>
<rect x="429.00" y="223.50" width="1.00" height="10.38" fill="#111"/>
<rect x="443.00" y="223.50" width="1.00" height="4.15" fill="#111"/>
<rect x="445.00" y="206.58" width="1.00" height="16.92" fill="#111"/>
<rect x="446.00" y="210.01" width="1.00" height="13.49" fill="#111"/>
<rect x="448.00" y="216.23" width="1.00" height="7.27" fill="#111"/>
<rect x="453.00" y="223.50" width="1.00" height="2.08" fill="#111"/>
<rect x="454.00" y="221.42" width="1.00" height="2.08" fill="#111"/>
<rect x="456.00" y="223.50" width="1.00" height="6.23" fill="#111"/>
<rect x="458.00" y="220.91" width="1.00" height="2.60" fill="#111"/>
<rect x="467.00" y="220.39" width="1.00" height="3.11" fill="#111"/>
<rect x="468.00" y="217.27" width="1.00" height="6.23" fill="#111"/>
<rect x="470.00" y="205.85" width="1.00" height="17.65" fill="#111"/>
<rect x="472.00" y="219.35" width="1.00" height="4.15" fill="#111"/>
<rect x="474.00" y="207.93" width="1.00" height="15.57" fill="#111"/>
<rect x="475.00" y="212.08" width="1.00" height="11.42" fill="#111"/>
<rect x="476.00" y="210.01" width="1.00" height="13.49" fill="#111"/>
<rect x="477.00" y="217.27" width="1.00" height="6.23" fill="#111"/>
<rect x="479.00" y="200.66" width="1.00" height="22.84" fill="#111"/>
<rect x="480.00" y="222.46" width="1.00" height="1.04" fill="#111"/>
<rect x="482.00" y="215.20" width="1.00" height="8.30" fill="#111"/>
<rect x="483.00" y="215.20" width="1.00" height="8.30" fill="#111"/>
<rect x="486.00" y="207.93" width="1.00" height="15.57" fill="#111"/>
<rect x="490.00" y="223.50" width="1.00" height="2.08" fill="#111"/>
<rect x="491.00" y="223.50" width="1.00" height="2.60" fill="#111"/>
<rect x="492.00" y="223.50" width="1.00" height="2.08" fill="#111"/>
<line x1="37.3" y1="171.6" x2="493.5" y2="171.6" stroke="#262626" stroke-width="1.3"/>
<line x1="40" y1="244.1" x2="493.5" y2="244.1" stroke="#262626" stroke-width="1.3"/>
<line x1="44.1" y1="171.6" x2="44.1" y2="244.1" stroke="#262626" stroke-width="1.3"/>
<line x1="493.5" y1="171.6" x2="493.5" y2="244.1" stroke="#262626" stroke-width="1.3"/>
<line x1="37.3" y1="223.5" x2="493.5" y2="223.5" stroke="#262626" stroke-width="1.2"/>
<line x1="40" y1="244.26" x2="44.1" y2="244.26" stroke="#262626" stroke-width="1"/>
<line x1="40" y1="233.88" x2="44.1" y2="233.88" stroke="#262626" stroke-width="1"/>
<line x1="40" y1="223.50" x2="44.1" y2="223.50" stroke="#262626" stroke-width="1"/>
<line x1="40" y1="213.12" x2="44.1" y2="213.12" stroke="#262626" stroke-width="1"/>
<line x1="40" y1="202.74" x2="44.1" y2="202.74" stroke="#262626" stroke-width="1"/>
<line x1="40" y1="192.36" x2="44.1" y2="192.36" stroke="#262626" stroke-width="1"/>
<line x1="40" y1="181.98" x2="44.1" y2="181.98" stroke="#262626" stroke-width="1"/>
<line x1="40" y1="171.60" x2="44.1" y2="171.60" stroke="#262626" stroke-width="1"/>
<text x="35.6" y="175.5" font-family="Liberation Sans, sans-serif" font-size="10.2" text-anchor="end" fill="#333">5</text>
<text x="35.6" y="227.3" font-family="Liberation Sans, sans-serif" font-size="10.2" text-anchor="end" fill="#333">0</text>
<text transform="translate(23.5,207.0) rotate(-90)" font-family="Liberation Sans, sans-serif" font-size="11.8" font-weight="bold" text-anchor="middle" fill="#111">MS1</text>
<text x="6" y="164.1" font-family="Liberation Sans, sans-serif" font-size="11.5" font-weight="bold" letter-spacing="0.25" fill="#111">ChIP H3Ac</text>
<rect x="44.00" y="300.84" width="1.00" height="16.26" fill="#111"/>
<rect x="45.00" y="312.02" width="1.00" height="5.08" fill="#111"/>
<rect x="47.00" y="317.10" width="1.00" height="5.79" fill="#111"/>
<rect x="50.00" y="314.76" width="1.00" height="2.34" fill="#111"/>
<rect x="51.00" y="317.10" width="1.00" height="3.45" fill="#111"/>
<rect x="53.00" y="317.10" width="1.00" height="7.52" fill="#111"/>
<rect x="54.00" y="317.10" width="1.00" height="8.64" fill="#111"/>
<rect x="55.00" y="317.10" width="1.00" height="14.43" fill="#111"/>
<rect x="58.00" y="317.10" width="1.00" height="20.32" fill="#111"/>
<rect x="61.00" y="317.10" width="1.00" height="14.43" fill="#111"/>
<rect x="62.00" y="317.10" width="1.00" height="8.64" fill="#111"/>
<rect x="70.00" y="317.10" width="1.00" height="5.08" fill="#111"/>
<rect x="71.00" y="317.10" width="1.00" height="10.97" fill="#111"/>
<rect x="80.00" y="289.67" width="2.00" height="27.43" fill="#111"/>
<rect x="82.00" y="279.00" width="1.00" height="38.10" fill="#111"/>
<rect x="83.00" y="300.84" width="1.00" height="16.26" fill="#111"/>
<rect x="84.00" y="308.97" width="1.00" height="8.13" fill="#111"/>
<rect x="86.00" y="317.10" width="1.00" height="4.06" fill="#111"/>
<rect x="93.00" y="317.10" width="1.00" height="20.32" fill="#111"/>
<rect x="105.00" y="317.10" width="3.00" height="14.43" fill="#555"/>
<rect x="108.00" y="317.10" width="2.00" height="17.27" fill="#555"/>
<rect x="120.00" y="317.10" width="1.00" height="7.11" fill="#111"/>
<rect x="121.00" y="317.10" width="1.00" height="7.11" fill="#111"/>
<rect x="122.00" y="317.10" width="1.00" height="5.08" fill="#111"/>
<rect x="131.00" y="317.10" width="1.00" height="20.32" fill="#111"/>
<rect x="132.00" y="317.10" width="1.00" height="20.32" fill="#111"/>
<rect x="134.00" y="317.10" width="1.00" height="6.10" fill="#111"/>
<rect x="143.00" y="317.10" width="1.00" height="20.32" fill="#111"/>
<rect x="144.00" y="311.00" width="1.00" height="6.10" fill="#111"/>
<rect x="145.00" y="317.10" width="1.00" height="10.16" fill="#111"/>
<rect x="146.00" y="317.10" width="1.00" height="6.10" fill="#111"/>
<rect x="150.00" y="317.10" width="1.00" height="6.10" fill="#111"/>
<rect x="158.00" y="272.09" width="1.00" height="45.01" fill="#111"/>
<rect x="159.00" y="285.10" width="2.00" height="32.00" fill="#444"/>
<rect x="161.00" y="283.57" width="1.00" height="33.53" fill="#444"/>
<rect x="162.00" y="273.41" width="2.00" height="43.69" fill="#111"/>
<rect x="164.00" y="307.65" width="1.00" height="9.45" fill="#111"/>
<rect x="165.00" y="295.76" width="3.00" height="21.34" fill="#555"/>
<rect x="168.00" y="298.81" width="1.00" height="18.29" fill="#555"/>
<rect x="169.00" y="282.25" width="2.00" height="34.85" fill="#555"/>
<rect x="171.00" y="280.73" width="2.00" height="36.37" fill="#555"/>
<rect x="174.00" y="302.37" width="1.00" height="14.73" fill="#111"/>
<rect x="175.00" y="311.51" width="1.00" height="5.59" fill="#111"/>
<rect x="176.00" y="317.10" width="1.00" height="9.14" fill="#111"/>
<rect x="181.00" y="317.10" width="1.00" height="14.22" fill="#111"/>
<rect x="182.00" y="317.10" width="1.00" height="5.08" fill="#111"/>
<rect x="183.00" y="317.10" width="1.00" height="3.05" fill="#111"/>
<rect x="192.00" y="317.10" width="1.00" height="6.10" fill="#111"/>
<rect x="193.00" y="317.10" width="1.00" height="12.19" fill="#111"/>
<rect x="195.00" y="311.00" width="1.00" height="6.10" fill="#111"/>
<rect x="196.00" y="317.10" width="1.00" height="5.08" fill="#111"/>
<rect x="199.00" y="317.10" width="1.00" height="10.16" fill="#555"/>
<rect x="200.00" y="317.10" width="1.00" height="11.18" fill="#555"/>
<rect x="202.00" y="317.10" width="1.00" height="7.11" fill="#555"/>
<rect x="203.00" y="317.10" width="1.00" height="16.87" fill="#111"/>
<rect x="204.00" y="317.10" width="1.00" height="10.16" fill="#555"/>
<rect x="218.00" y="312.02" width="1.00" height="5.08" fill="#111"/>
<rect x="226.00" y="300.84" width="1.00" height="16.26" fill="#111"/>
<rect x="226.00" y="294.75" width="2.00" height="22.35" fill="#111"/>
<rect x="228.00" y="299.83" width="1.00" height="17.27" fill="#111"/>
<rect x="235.00" y="317.10" width="1.00" height="3.05" fill="#111"/>
<rect x="242.00" y="288.96" width="2.00" height="28.14" fill="#111"/>
<rect x="244.00" y="290.68" width="2.00" height="26.42" fill="#111"/>
<rect x="246.00" y="298.81" width="2.00" height="18.29" fill="#111"/>
<rect x="260.00" y="317.10" width="1.00" height="4.06" fill="#111"/>
<rect x="262.00" y="317.10" width="1.00" height="8.13" fill="#111"/>
<rect x="265.00" y="317.10" width="1.00" height="18.29" fill="#111"/>
<rect x="271.00" y="317.10" width="1.00" height="19.30" fill="#111"/>
<rect x="272.00" y="317.10" width="1.00" height="10.16" fill="#111"/>
<rect x="273.00" y="317.10" width="1.00" height="14.22" fill="#111"/>
<rect x="275.00" y="317.10" width="1.00" height="12.19" fill="#111"/>
<rect x="276.00" y="317.10" width="1.00" height="10.16" fill="#111"/>
<rect x="278.00" y="317.10" width="1.00" height="12.19" fill="#111"/>
<rect x="281.00" y="317.10" width="1.00" height="20.32" fill="#111"/>
<rect x="287.00" y="317.10" width="1.00" height="13.21" fill="#111"/>
<rect x="289.00" y="309.38" width="1.00" height="7.72" fill="#111"/>
<rect x="294.00" y="295.76" width="2.00" height="21.34" fill="#555"/>
<rect x="296.00" y="277.17" width="2.00" height="39.93" fill="#333"/>
<rect x="298.00" y="282.86" width="1.00" height="34.24" fill="#444"/>
<rect x="299.00" y="287.33" width="1.00" height="29.77" fill="#333"/>
<rect x="300.00" y="290.18" width="2.00" height="26.92" fill="#444"/>
<rect x="302.00" y="300.34" width="1.00" height="16.76" fill="#444"/>
<rect x="304.00" y="308.26" width="1.00" height="8.84" fill="#111"/>
<rect x="309.00" y="317.10" width="1.00" height="20.32" fill="#111"/>
<rect x="325.00" y="317.10" width="1.00" height="20.32" fill="#111"/>
<rect x="327.00" y="317.10" width="1.00" height="20.32" fill="#111"/>
<rect x="328.00" y="315.07" width="1.00" height="2.03" fill="#111"/>
<rect x="329.00" y="314.05" width="1.00" height="3.05" fill="#111"/>
<rect x="330.00" y="317.10" width="1.00" height="6.10" fill="#111"/>
<rect x="331.00" y="317.10" width="1.00" height="9.14" fill="#111"/>
<rect x="333.00" y="317.10" width="1.00" height="12.19" fill="#111"/>
<rect x="334.00" y="317.10" width="1.00" height="10.16" fill="#111"/>
<rect x="337.00" y="317.10" width="1.00" height="10.16" fill="#111"/>
<rect x="339.00" y="317.10" width="1.00" height="10.16" fill="#111"/>
<rect x="351.00" y="317.10" width="1.00" height="13.21" fill="#111"/>
<rect x="352.00" y="317.10" width="1.00" height="15.24" fill="#111"/>
<rect x="354.00" y="317.10" width="1.00" height="5.08" fill="#111"/>
<rect x="358.00" y="317.10" width="1.00" height="8.13" fill="#111"/>
<rect x="367.00" y="314.05" width="1.00" height="3.05" fill="#111"/>
<rect x="368.00" y="315.07" width="1.00" height="2.03" fill="#111"/>
<rect x="370.00" y="316.08" width="1.00" height="1.02" fill="#111"/>
<rect x="373.00" y="317.10" width="1.00" height="8.13" fill="#111"/>
<rect x="374.00" y="317.10" width="1.00" height="19.30" fill="#111"/>
<rect x="375.00" y="317.10" width="1.00" height="19.30" fill="#111"/>
<rect x="379.00" y="317.10" width="1.00" height="20.32" fill="#111"/>
<rect x="382.00" y="313.04" width="1.00" height="4.06" fill="#111"/>
<rect x="383.00" y="311.00" width="1.00" height="6.10" fill="#111"/>
<rect x="384.00" y="308.97" width="1.00" height="8.13" fill="#111"/>
<rect x="385.00" y="303.89" width="1.00" height="13.21" fill="#111"/>
<rect x="386.00" y="300.23" width="1.00" height="16.87" fill="#111"/>
<rect x="391.00" y="308.97" width="1.00" height="8.13" fill="#111"/>
<rect x="391.00" y="296.27" width="1.00" height="20.83" fill="#111"/>
<rect x="393.00" y="304.91" width="1.00" height="12.19" fill="#111"/>
<rect x="397.00" y="312.02" width="1.00" height="5.08" fill="#111"/>
<rect x="398.00" y="314.05" width="1.00" height="3.05" fill="#111"/>
<rect x="401.00" y="317.10" width="1.00" height="17.27" fill="#111"/>
<rect x="403.00" y="316.08" width="1.00" height="1.02" fill="#111"/>
<rect x="404.00" y="317.10" width="1.00" height="4.06" fill="#111"/>
<rect x="406.00" y="317.10" width="1.00" height="6.10" fill="#111"/>
<rect x="410.00" y="317.10" width="1.00" height="5.08" fill="#111"/>
<rect x="419.00" y="317.10" width="1.00" height="20.32" fill="#111"/>
<rect x="425.00" y="317.10" width="1.00" height="17.27" fill="#111"/>
<rect x="436.00" y="317.10" width="1.00" height="7.11" fill="#111"/>
<rect x="440.00" y="314.05" width="1.00" height="3.05" fill="#111"/>
<rect x="442.00" y="294.75" width="1.00" height="22.35" fill="#111"/>
<rect x="443.00" y="301.86" width="1.00" height="15.24" fill="#111"/>
<rect x="445.00" y="300.84" width="1.00" height="16.26" fill="#111"/>
<rect x="450.00" y="317.10" width="1.00" height="8.13" fill="#111"/>
<rect x="451.00" y="307.96" width="1.00" height="9.14" fill="#111"/>
<rect x="454.00" y="308.97" width="1.00" height="8.13" fill="#111"/>
<rect x="462.00" y="296.78" width="1.00" height="20.32" fill="#111"/>
<rect x="463.00" y="301.86" width="1.00" height="15.24" fill="#555"/>
<rect x="464.00" y="295.76" width="2.00" height="21.34" fill="#111"/>
<rect x="466.00" y="286.62" width="1.00" height="30.48" fill="#111"/>
<rect x="467.00" y="296.78" width="1.00" height="20.32" fill="#555"/>
<rect x="468.00" y="307.96" width="2.00" height="9.14" fill="#111"/>
<rect x="470.00" y="307.96" width="1.00" height="9.14" fill="#555"/>
<rect x="472.00" y="317.10" width="1.00" height="5.08" fill="#111"/>
<rect x="473.00" y="315.07" width="1.00" height="2.03" fill="#111"/>
<rect x="474.00" y="312.02" width="1.00" height="5.08" fill="#111"/>
<rect x="475.00" y="300.84" width="1.00" height="16.26" fill="#111"/>
<rect x="475.00" y="293.73" width="1.00" height="23.37" fill="#111"/>
<rect x="477.00" y="306.94" width="1.00" height="10.16" fill="#111"/>
<rect x="478.00" y="301.86" width="1.00" height="15.24" fill="#111"/>
<rect x="479.00" y="307.96" width="1.00" height="9.14" fill="#111"/>
<rect x="480.00" y="307.96" width="1.00" height="9.14" fill="#111"/>
<rect x="482.00" y="302.88" width="1.00" height="14.22" fill="#111"/>
<rect x="485.00" y="317.10" width="1.00" height="4.06" fill="#111"/>
<rect x="487.00" y="317.10" width="1.00" height="8.13" fill="#111"/>
<rect x="489.00" y="314.05" width="1.00" height="3.05" fill="#111"/>
<rect x="490.00" y="312.02" width="1.00" height="5.08" fill="#111"/>
<rect x="491.00" y="308.97" width="1.00" height="8.13" fill="#111"/>
<rect x="492.00" y="308.97" width="1.00" height="8.13" fill="#111"/>
<line x1="37.3" y1="266.3" x2="493.5" y2="266.3" stroke="#262626" stroke-width="1.3"/>
<line x1="40" y1="338.3" x2="493.5" y2="338.3" stroke="#262626" stroke-width="1.3"/>
<line x1="43.6" y1="266.3" x2="43.6" y2="338.3" stroke="#262626" stroke-width="1.3"/>
<line x1="493.5" y1="266.3" x2="493.5" y2="338.3" stroke="#262626" stroke-width="1.3"/>
<line x1="37.3" y1="317.1" x2="493.5" y2="317.1" stroke="#262626" stroke-width="1.2"/>
<line x1="40" y1="337.42" x2="43.6" y2="337.42" stroke="#262626" stroke-width="1"/>
<line x1="40" y1="327.26" x2="43.6" y2="327.26" stroke="#262626" stroke-width="1"/>
<line x1="40" y1="317.10" x2="43.6" y2="317.10" stroke="#262626" stroke-width="1"/>
<line x1="40" y1="306.94" x2="43.6" y2="306.94" stroke="#262626" stroke-width="1"/>
<line x1="40" y1="296.78" x2="43.6" y2="296.78" stroke="#262626" stroke-width="1"/>
<line x1="40" y1="286.62" x2="43.6" y2="286.62" stroke="#262626" stroke-width="1"/>
<line x1="40" y1="276.46" x2="43.6" y2="276.46" stroke="#262626" stroke-width="1"/>
<line x1="40" y1="266.30" x2="43.6" y2="266.30" stroke="#262626" stroke-width="1"/>
<text x="35.6" y="270.2" font-family="Liberation Sans, sans-serif" font-size="10.2" text-anchor="end" fill="#333">5</text>
<text x="35.6" y="320.9" font-family="Liberation Sans, sans-serif" font-size="10.2" text-anchor="end" fill="#333">0</text>
<text transform="translate(23.5,301.7) rotate(-90)" font-family="Liberation Sans, sans-serif" font-size="11.8" font-weight="bold" text-anchor="middle" fill="#111">MS1</text>
<text x="6" y="260.8" font-family="Liberation Sans, sans-serif" font-size="11.5" font-weight="bold" letter-spacing="0.25" fill="#111">DNaseI</text>
<rect x="1" y="359.4" width="517.6" height="185.80000000000007" fill="none" stroke="#333" stroke-width="1.3"/>
<line x1="518.6" y1="359.4" x2="518.6" y2="545.2" stroke="#444" stroke-width="1.8"/>
<text x="0.6" y="357.7" font-family="Liberation Sans, sans-serif" font-size="17.8" font-weight="bold" fill="#000">C</text>
<rect x="45.00" y="430.20" width="1.00" height="12.74" fill="#111"/>
<rect x="45.00" y="430.20" width="1.00" height="8.29" fill="#111"/>
<rect x="51.00" y="419.84" width="1.00" height="10.36" fill="#111"/>
<rect x="52.00" y="427.09" width="1.00" height="3.11" fill="#111"/>
<rect x="54.00" y="426.06" width="1.00" height="4.14" fill="#111"/>
<rect x="55.00" y="425.02" width="1.00" height="5.18" fill="#111"/>
<rect x="58.00" y="423.98" width="1.00" height="6.22" fill="#111"/>
<rect x="59.00" y="430.20" width="1.00" height="2.07" fill="#111"/>
<rect x="61.00" y="426.06" width="1.00" height="4.14" fill="#111"/>
<rect x="62.00" y="430.20" width="1.00" height="6.22" fill="#111"/>
<rect x="70.00" y="427.09" width="1.00" height="3.11" fill="#111"/>
<rect x="71.00" y="430.20" width="1.00" height="3.11" fill="#111"/>
<rect x="73.00" y="428.13" width="1.00" height="2.07" fill="#111"/>
<rect x="79.00" y="419.53" width="1.00" height="10.67" fill="#111"/>
<rect x="80.00" y="401.19" width="1.00" height="29.01" fill="#111"/>
<rect x="81.00" y="396.84" width="2.00" height="33.36" fill="#111"/>
<rect x="83.00" y="416.73" width="1.00" height="13.47" fill="#111"/>
<rect x="84.00" y="409.89" width="1.00" height="20.31" fill="#111"/>
<rect x="86.00" y="430.20" width="1.00" height="1.04" fill="#111"/>
<rect x="93.00" y="423.98" width="1.00" height="6.22" fill="#111"/>
<rect x="94.00" y="423.98" width="1.00" height="6.22" fill="#111"/>
<rect x="106.00" y="416.73" width="2.00" height="13.47" fill="#111"/>
<rect x="108.00" y="420.57" width="1.00" height="9.63" fill="#111"/>
<rect x="120.00" y="430.20" width="1.00" height="4.14" fill="#111"/>
<rect x="122.00" y="430.20" width="1.00" height="5.18" fill="#111"/>
<rect x="123.00" y="419.84" width="1.00" height="10.36" fill="#111"/>
<rect x="127.00" y="421.91" width="1.00" height="8.29" fill="#111"/>
<rect x="128.00" y="420.88" width="1.00" height="9.32" fill="#111"/>
<rect x="129.00" y="418.80" width="1.00" height="11.40" fill="#111"/>
<rect x="131.00" y="430.20" width="1.00" height="7.25" fill="#111"/>
<rect x="132.00" y="430.20" width="1.00" height="6.22" fill="#111"/>
<rect x="134.00" y="430.20" width="1.00" height="4.14" fill="#111"/>
<rect x="143.00" y="417.77" width="1.00" height="12.43" fill="#111"/>
<rect x="145.00" y="430.20" width="1.00" height="3.11" fill="#111"/>
<rect x="146.00" y="421.91" width="1.00" height="8.29" fill="#111"/>
<rect x="147.00" y="420.88" width="1.00" height="9.32" fill="#111"/>
<rect x="149.00" y="412.07" width="1.00" height="18.13" fill="#111"/>
<rect x="150.00" y="425.02" width="1.00" height="5.18" fill="#111"/>
<rect x="151.00" y="425.02" width="1.00" height="5.18" fill="#111"/>
<rect x="157.00" y="399.12" width="3.00" height="31.08" fill="#111"/>
<rect x="160.00" y="391.87" width="2.00" height="38.33" fill="#111"/>
<rect x="162.00" y="378.40" width="2.00" height="51.80" fill="#111"/>
<rect x="164.00" y="408.44" width="1.00" height="21.76" fill="#111"/>
<rect x="165.00" y="383.58" width="2.00" height="46.62" fill="#111"/>
<rect x="167.00" y="380.47" width="2.00" height="49.73" fill="#111"/>
<rect x="169.00" y="384.62" width="2.00" height="45.58" fill="#111"/>
<rect x="171.00" y="394.98" width="2.00" height="35.22" fill="#111"/>
<rect x="174.00" y="398.08" width="1.00" height="32.12" fill="#111"/>
<rect x="175.00" y="413.62" width="1.00" height="16.58" fill="#111"/>
<rect x="182.00" y="429.16" width="1.00" height="1.04" fill="#111"/>
<rect x="184.00" y="430.20" width="1.00" height="16.58" fill="#555"/>
<rect x="192.00" y="425.02" width="1.00" height="5.18" fill="#111"/>
<rect x="193.00" y="427.09" width="1.00" height="3.11" fill="#111"/>
<rect x="196.00" y="423.98" width="1.00" height="6.22" fill="#111"/>
<rect x="197.00" y="422.95" width="1.00" height="7.25" fill="#111"/>
<rect x="200.00" y="430.20" width="3.00" height="6.22" fill="#555"/>
<rect x="200.00" y="428.13" width="1.00" height="2.07" fill="#111"/>
<rect x="218.00" y="425.33" width="1.00" height="4.87" fill="#111"/>
<rect x="225.00" y="425.02" width="1.00" height="5.18" fill="#111"/>
<rect x="226.00" y="414.66" width="1.00" height="15.54" fill="#111"/>
<rect x="227.00" y="408.44" width="1.00" height="21.76" fill="#111"/>
<rect x="228.00" y="419.53" width="1.00" height="10.67" fill="#111"/>
<rect x="232.00" y="402.64" width="2.00" height="27.56" fill="#111"/>
<rect x="234.00" y="409.89" width="2.00" height="20.31" fill="#111"/>
<rect x="236.00" y="405.03" width="2.00" height="25.17" fill="#111"/>
<rect x="238.00" y="394.87" width="2.00" height="35.33" fill="#111"/>
<rect x="242.00" y="412.80" width="1.00" height="17.40" fill="#111"/>
<rect x="243.00" y="422.43" width="2.00" height="7.77" fill="#111"/>
<rect x="245.00" y="423.98" width="1.00" height="6.22" fill="#111"/>
<rect x="247.00" y="430.20" width="1.00" height="6.73" fill="#555"/>
<rect x="258.00" y="430.20" width="1.00" height="5.18" fill="#111"/>
<rect x="259.00" y="430.20" width="1.00" height="8.29" fill="#111"/>
<rect x="260.00" y="430.20" width="1.00" height="3.11" fill="#111"/>
<rect x="265.00" y="430.20" width="1.00" height="11.40" fill="#111"/>
<rect x="271.00" y="430.20" width="1.00" height="6.22" fill="#111"/>
<rect x="272.00" y="430.20" width="1.00" height="7.25" fill="#111"/>
<rect x="273.00" y="430.20" width="1.00" height="8.29" fill="#111"/>
<rect x="275.00" y="430.20" width="1.00" height="4.14" fill="#111"/>
<rect x="278.00" y="430.20" width="1.00" height="3.11" fill="#111"/>
<rect x="282.00" y="430.20" width="1.00" height="2.07" fill="#111"/>
<rect x="287.00" y="430.20" width="1.00" height="16.58" fill="#111"/>
<rect x="288.00" y="430.20" width="1.00" height="6.22" fill="#111"/>
<rect x="294.00" y="420.25" width="1.00" height="9.95" fill="#111"/>
<rect x="298.00" y="430.20" width="1.00" height="5.18" fill="#111"/>
<rect x="300.00" y="428.13" width="1.00" height="2.07" fill="#111"/>
<rect x="301.00" y="430.20" width="1.00" height="3.11" fill="#111"/>
<rect x="304.00" y="426.06" width="1.00" height="4.14" fill="#111"/>
<rect x="326.00" y="430.20" width="1.00" height="12.43" fill="#111"/>
<rect x="328.00" y="430.20" width="1.00" height="7.25" fill="#111"/>
<rect x="329.00" y="430.20" width="1.00" height="6.22" fill="#111"/>
<rect x="331.00" y="430.20" width="1.00" height="4.14" fill="#111"/>
<rect x="333.00" y="423.98" width="1.00" height="6.22" fill="#111"/>
<rect x="334.00" y="430.20" width="1.00" height="6.22" fill="#111"/>
<rect x="338.00" y="430.20" width="1.00" height="6.22" fill="#111"/>
<rect x="351.00" y="430.20" width="4.00" height="8.29" fill="#111"/>
<rect x="359.00" y="430.20" width="1.00" height="5.18" fill="#111"/>
<rect x="367.00" y="416.73" width="1.00" height="13.47" fill="#111"/>
<rect x="368.00" y="425.02" width="1.00" height="5.18" fill="#111"/>
<rect x="370.00" y="426.06" width="1.00" height="4.14" fill="#111"/>
<rect x="372.00" y="430.20" width="1.00" height="3.11" fill="#111"/>
<rect x="373.00" y="430.20" width="1.00" height="2.07" fill="#111"/>
<rect x="379.00" y="430.20" width="1.00" height="11.40" fill="#111"/>
<rect x="382.00" y="430.20" width="1.00" height="4.14" fill="#111"/>
<rect x="383.00" y="430.20" width="1.00" height="6.22" fill="#111"/>
<rect x="385.00" y="430.20" width="1.00" height="6.22" fill="#111"/>
<rect x="386.00" y="430.20" width="1.00" height="8.29" fill="#111"/>
<rect x="391.00" y="430.20" width="1.00" height="13.47" fill="#111"/>
<rect x="392.00" y="430.20" width="1.00" height="9.32" fill="#111"/>
<rect x="394.00" y="425.02" width="1.00" height="5.18" fill="#111"/>
<rect x="398.00" y="430.20" width="1.00" height="3.11" fill="#111"/>
<rect x="399.00" y="430.20" width="1.00" height="4.14" fill="#111"/>
<rect x="400.00" y="430.20" width="1.00" height="8.29" fill="#111"/>
<rect x="402.00" y="430.20" width="1.00" height="5.18" fill="#111"/>
<rect x="403.00" y="427.09" width="1.00" height="3.11" fill="#111"/>
<rect x="404.00" y="430.20" width="1.00" height="9.32" fill="#111"/>
<rect x="406.00" y="430.20" width="1.00" height="9.32" fill="#111"/>
<rect x="411.00" y="430.20" width="1.00" height="10.36" fill="#111"/>
<rect x="419.00" y="430.20" width="1.00" height="20.72" fill="#111"/>
<rect x="426.00" y="430.20" width="1.00" height="19.68" fill="#111"/>
<rect x="437.00" y="430.20" width="1.00" height="16.58" fill="#111"/>
<rect x="440.00" y="428.13" width="1.00" height="2.07" fill="#111"/>
<rect x="442.00" y="421.91" width="1.00" height="8.29" fill="#111"/>
<rect x="443.00" y="420.88" width="1.00" height="9.32" fill="#111"/>
<rect x="445.00" y="414.66" width="1.00" height="15.54" fill="#111"/>
<rect x="448.00" y="430.20" width="1.00" height="2.07" fill="#111"/>
<rect x="452.00" y="425.02" width="1.00" height="5.18" fill="#111"/>
<rect x="453.00" y="430.20" width="1.00" height="4.14" fill="#111"/>
<rect x="463.00" y="428.13" width="1.00" height="2.07" fill="#111"/>
<rect x="465.00" y="423.98" width="1.00" height="6.22" fill="#111"/>
<rect x="466.00" y="421.91" width="1.00" height="8.29" fill="#111"/>
<rect x="467.00" y="420.88" width="1.00" height="9.32" fill="#111"/>
<rect x="470.00" y="413.93" width="1.00" height="16.27" fill="#111"/>
<rect x="471.00" y="419.84" width="1.00" height="10.36" fill="#111"/>
<rect x="472.00" y="417.77" width="1.00" height="12.43" fill="#111"/>
<rect x="473.00" y="416.73" width="3.00" height="13.47" fill="#111"/>
<rect x="477.00" y="418.80" width="1.00" height="11.40" fill="#111"/>
<rect x="479.00" y="415.70" width="1.00" height="14.50" fill="#111"/>
<rect x="482.00" y="414.66" width="1.00" height="15.54" fill="#111"/>
<rect x="483.00" y="422.95" width="1.00" height="7.25" fill="#111"/>
<rect x="485.00" y="430.20" width="1.00" height="3.11" fill="#111"/>
<rect x="487.00" y="430.20" width="1.00" height="5.18" fill="#111"/>
<rect x="489.00" y="430.20" width="1.00" height="6.22" fill="#111"/>
<rect x="491.00" y="430.20" width="1.00" height="3.11" fill="#111"/>
<rect x="492.00" y="430.20" width="1.00" height="6.22" fill="#111"/>
<line x1="37.3" y1="378.4" x2="494.2" y2="378.4" stroke="#262626" stroke-width="1.3"/>
<line x1="40" y1="450.6" x2="494.2" y2="450.6" stroke="#262626" stroke-width="1.3"/>
<line x1="44.1" y1="378.4" x2="44.1" y2="450.6" stroke="#262626" stroke-width="1.3"/>
<line x1="494.2" y1="378.4" x2="494.2" y2="450.6" stroke="#262626" stroke-width="1.3"/>
<line x1="37.3" y1="430.2" x2="494.2" y2="430.2" stroke="#262626" stroke-width="1.2"/>
<line x1="40" y1="450.92" x2="44.1" y2="450.92" stroke="#262626" stroke-width="1"/>
<line x1="40" y1="440.56" x2="44.1" y2="440.56" stroke="#262626" stroke-width="1"/>
<line x1="40" y1="430.20" x2="44.1" y2="430.20" stroke="#262626" stroke-width="1"/>
<line x1="40" y1="419.84" x2="44.1" y2="419.84" stroke="#262626" stroke-width="1"/>
<line x1="40" y1="409.48" x2="44.1" y2="409.48" stroke="#262626" stroke-width="1"/>
<line x1="40" y1="399.12" x2="44.1" y2="399.12" stroke="#262626" stroke-width="1"/>
<line x1="40" y1="388.76" x2="44.1" y2="388.76" stroke="#262626" stroke-width="1"/>
<line x1="40" y1="378.40" x2="44.1" y2="378.40" stroke="#262626" stroke-width="1"/>
<text x="35.6" y="382.3" font-family="Liberation Sans, sans-serif" font-size="10.2" text-anchor="end" fill="#333">5</text>
<text x="35.6" y="434.0" font-family="Liberation Sans, sans-serif" font-size="10.2" text-anchor="end" fill="#333">0</text>
<text transform="translate(23.5,405.3) rotate(-90)" font-family="Liberation Sans, sans-serif" font-size="11.8" font-weight="bold" text-anchor="middle" fill="#111" textLength="26.5" lengthAdjust="spacingAndGlyphs">HPC7</text>
<text x="6" y="372.3" font-family="Liberation Sans, sans-serif" font-size="11.5" font-weight="bold" letter-spacing="0.25" fill="#111">ChIP H3Ac</text>
<rect x="45.00" y="492.21" width="1.00" height="28.00" fill="#333"/>
<rect x="46.00" y="486.61" width="2.00" height="33.59" fill="#555"/>
<rect x="48.00" y="516.13" width="1.00" height="4.07" fill="#111"/>
<rect x="52.00" y="491.70" width="1.00" height="28.50" fill="#111"/>
<rect x="53.00" y="501.57" width="1.00" height="18.63" fill="#111"/>
<rect x="55.00" y="520.20" width="1.00" height="11.61" fill="#111"/>
<rect x="57.00" y="520.20" width="1.00" height="17.31" fill="#555"/>
<rect x="60.00" y="520.20" width="1.00" height="20.36" fill="#111"/>
<rect x="61.00" y="520.20" width="1.00" height="12.22" fill="#111"/>
<rect x="63.00" y="520.20" width="1.00" height="13.95" fill="#111"/>
<rect x="71.00" y="520.20" width="1.00" height="8.75" fill="#111"/>
<rect x="72.00" y="504.42" width="1.00" height="15.78" fill="#111"/>
<rect x="73.00" y="507.98" width="1.00" height="12.22" fill="#111"/>
<rect x="81.00" y="514.40" width="1.00" height="5.80" fill="#111"/>
<rect x="82.00" y="470.11" width="2.00" height="50.09" fill="#111"/>
<rect x="86.00" y="506.76" width="1.00" height="13.44" fill="#111"/>
<rect x="95.00" y="520.20" width="1.00" height="12.22" fill="#555"/>
<rect x="106.00" y="520.20" width="1.00" height="5.09" fill="#111"/>
<rect x="107.00" y="520.20" width="1.00" height="8.14" fill="#111"/>
<rect x="108.00" y="520.20" width="1.00" height="6.11" fill="#111"/>
<rect x="109.00" y="520.20" width="1.00" height="20.36" fill="#111"/>
<rect x="122.00" y="520.20" width="1.00" height="3.05" fill="#111"/>
<rect x="123.00" y="518.16" width="1.00" height="2.04" fill="#111"/>
<rect x="124.00" y="517.15" width="1.00" height="3.05" fill="#111"/>
<rect x="125.00" y="514.09" width="1.00" height="6.11" fill="#111"/>
<rect x="127.00" y="519.18" width="1.00" height="1.02" fill="#111"/>
<rect x="129.00" y="518.67" width="1.00" height="1.53" fill="#111"/>
<rect x="131.00" y="516.64" width="1.00" height="3.56" fill="#111"/>
<rect x="133.00" y="520.20" width="1.00" height="2.04" fill="#111"/>
<rect x="134.00" y="519.18" width="1.00" height="1.02" fill="#111"/>
<rect x="138.00" y="519.69" width="1.00" height="0.51" fill="#111"/>
<rect x="145.00" y="514.09" width="1.00" height="6.11" fill="#111"/>
<rect x="145.00" y="520.20" width="1.00" height="20.36" fill="#111"/>
<rect x="147.00" y="516.13" width="1.00" height="4.07" fill="#111"/>
<rect x="148.00" y="520.20" width="1.00" height="6.11" fill="#111"/>
<rect x="150.00" y="520.20" width="1.00" height="12.22" fill="#555"/>
<rect x="152.00" y="520.20" width="1.00" height="14.25" fill="#555"/>
<rect x="153.00" y="520.20" width="1.00" height="4.07" fill="#111"/>
<rect x="154.00" y="520.20" width="1.00" height="16.29" fill="#555"/>
<rect x="155.00" y="520.20" width="1.00" height="20.36" fill="#111"/>
<rect x="159.00" y="489.66" width="1.00" height="30.54" fill="#111"/>
<rect x="160.00" y="486.61" width="2.00" height="33.59" fill="#111"/>
<rect x="162.00" y="482.23" width="2.00" height="37.97" fill="#111"/>
<rect x="164.00" y="474.39" width="1.00" height="45.81" fill="#111"/>
<rect x="165.00" y="505.95" width="2.00" height="14.25" fill="#111"/>
<rect x="167.00" y="511.55" width="1.00" height="8.65" fill="#111"/>
<rect x="169.00" y="520.20" width="1.00" height="7.13" fill="#111"/>
<rect x="171.00" y="516.13" width="1.00" height="4.07" fill="#111"/>
<rect x="177.00" y="520.20" width="1.00" height="20.36" fill="#111"/>
<rect x="183.00" y="520.20" width="1.00" height="20.36" fill="#111"/>
<rect x="185.00" y="514.09" width="1.00" height="6.11" fill="#111"/>
<rect x="192.00" y="520.20" width="1.00" height="3.05" fill="#111"/>
<rect x="193.00" y="520.20" width="1.00" height="20.36" fill="#111"/>
<rect x="195.00" y="515.11" width="1.00" height="5.09" fill="#111"/>
<rect x="197.00" y="520.20" width="1.00" height="6.11" fill="#111"/>
<rect x="198.00" y="520.20" width="1.00" height="20.36" fill="#111"/>
<rect x="202.00" y="520.20" width="1.00" height="8.14" fill="#111"/>
<rect x="203.00" y="520.20" width="1.00" height="20.36" fill="#111"/>
<rect x="205.00" y="513.07" width="1.00" height="7.13" fill="#111"/>
<rect x="219.00" y="514.09" width="1.00" height="6.11" fill="#111"/>
<rect x="226.00" y="513.07" width="3.00" height="7.13" fill="#111"/>
<rect x="229.00" y="520.20" width="1.00" height="3.05" fill="#111"/>
<rect x="233.00" y="518.67" width="2.00" height="1.53" fill="#111"/>
<rect x="235.00" y="488.03" width="2.00" height="32.17" fill="#111"/>
<rect x="237.00" y="476.02" width="2.00" height="44.18" fill="#111"/>
<rect x="239.00" y="493.73" width="1.00" height="26.47" fill="#111"/>
<rect x="243.00" y="474.59" width="2.00" height="45.61" fill="#111"/>
<rect x="245.00" y="482.23" width="2.00" height="37.97" fill="#111"/>
<rect x="247.00" y="505.34" width="1.00" height="14.86" fill="#111"/>
<rect x="248.00" y="514.09" width="2.00" height="6.11" fill="#111"/>
<rect x="260.00" y="520.20" width="1.00" height="10.18" fill="#111"/>
<rect x="261.00" y="520.20" width="1.00" height="20.36" fill="#111"/>
<rect x="263.00" y="520.20" width="1.00" height="20.36" fill="#111"/>
<rect x="266.00" y="520.20" width="1.00" height="20.36" fill="#111"/>
<rect x="268.00" y="520.20" width="1.00" height="12.22" fill="#111"/>
<rect x="273.00" y="517.15" width="1.00" height="3.05" fill="#111"/>
<rect x="275.00" y="515.11" width="1.00" height="5.09" fill="#111"/>
<rect x="276.00" y="489.66" width="1.00" height="30.54" fill="#111"/>
<rect x="278.00" y="520.20" width="1.00" height="9.16" fill="#111"/>
<rect x="279.00" y="520.20" width="1.00" height="6.11" fill="#111"/>
<rect x="282.00" y="520.20" width="1.00" height="10.18" fill="#111"/>
<rect x="283.00" y="520.20" width="1.00" height="20.36" fill="#111"/>
<rect x="288.00" y="520.20" width="1.00" height="18.32" fill="#111"/>
<rect x="290.00" y="503.91" width="1.00" height="16.29" fill="#111"/>
<rect x="295.00" y="520.20" width="1.00" height="7.13" fill="#111"/>
<rect x="298.00" y="514.09" width="1.00" height="6.11" fill="#111"/>
<rect x="298.00" y="520.20" width="1.00" height="3.05" fill="#111"/>
<rect x="300.00" y="520.20" width="1.00" height="20.36" fill="#111"/>
<rect x="301.00" y="513.07" width="2.00" height="7.13" fill="#111"/>
<rect x="303.00" y="520.20" width="1.00" height="3.05" fill="#111"/>
<rect x="305.00" y="520.20" width="1.00" height="20.36" fill="#111"/>
<rect x="310.00" y="520.20" width="1.00" height="20.36" fill="#111"/>
<rect x="327.00" y="520.20" width="1.00" height="20.36" fill="#111"/>
<rect x="329.00" y="504.93" width="1.00" height="15.27" fill="#111"/>
<rect x="330.00" y="493.12" width="2.00" height="27.08" fill="#111"/>
<rect x="332.00" y="510.02" width="1.00" height="10.18" fill="#111"/>
<rect x="333.00" y="518.16" width="1.00" height="2.04" fill="#111"/>
<rect x="335.00" y="520.20" width="1.00" height="20.36" fill="#111"/>
<rect x="338.00" y="520.20" width="1.00" height="12.22" fill="#555"/>
<rect x="339.00" y="520.20" width="1.00" height="16.29" fill="#555"/>
<rect x="352.00" y="520.20" width="1.00" height="7.13" fill="#111"/>
<rect x="353.00" y="520.20" width="1.00" height="6.11" fill="#111"/>
<rect x="354.00" y="520.20" width="1.00" height="10.18" fill="#111"/>
<rect x="358.00" y="520.20" width="1.00" height="12.22" fill="#111"/>
<rect x="367.00" y="520.20" width="1.00" height="11.20" fill="#111"/>
<rect x="368.00" y="520.20" width="1.00" height="3.05" fill="#111"/>
<rect x="370.00" y="520.20" width="1.00" height="2.04" fill="#111"/>
<rect x="372.00" y="520.20" width="1.00" height="2.04" fill="#111"/>
<rect x="373.00" y="520.20" width="1.00" height="20.36" fill="#111"/>
<rect x="375.00" y="520.20" width="1.00" height="13.23" fill="#111"/>
<rect x="382.00" y="520.20" width="1.00" height="13.23" fill="#555"/>
<rect x="383.00" y="520.20" width="1.00" height="18.32" fill="#555"/>
<rect x="384.00" y="520.20" width="1.00" height="20.36" fill="#111"/>
<rect x="387.00" y="520.20" width="1.00" height="6.11" fill="#111"/>
<rect x="391.00" y="520.20" width="1.00" height="20.36" fill="#111"/>
<rect x="394.00" y="513.07" width="1.00" height="7.13" fill="#111"/>
<rect x="398.00" y="499.33" width="1.00" height="20.87" fill="#111"/>
<rect x="399.00" y="500.86" width="1.00" height="19.34" fill="#111"/>
<rect x="400.00" y="510.02" width="1.00" height="10.18" fill="#111"/>
<rect x="402.00" y="520.20" width="1.00" height="3.05" fill="#111"/>
<rect x="403.00" y="519.18" width="1.00" height="1.02" fill="#111"/>
<rect x="405.00" y="520.20" width="1.00" height="10.18" fill="#555"/>
<rect x="406.00" y="520.20" width="1.00" height="3.05" fill="#111"/>
<rect x="412.00" y="520.20" width="1.00" height="3.05" fill="#111"/>
<rect x="421.00" y="520.20" width="1.00" height="20.36" fill="#111"/>
<rect x="427.00" y="520.20" width="1.00" height="20.36" fill="#111"/>
<rect x="437.00" y="520.20" width="1.00" height="15.27" fill="#555"/>
<rect x="440.00" y="516.33" width="1.00" height="3.87" fill="#111"/>
<rect x="442.00" y="504.12" width="2.00" height="16.08" fill="#111"/>
<rect x="445.00" y="506.46" width="1.00" height="13.74" fill="#111"/>
<rect x="450.00" y="520.20" width="1.00" height="5.09" fill="#555"/>
<rect x="452.00" y="502.89" width="1.00" height="17.31" fill="#111"/>
<rect x="453.00" y="511.04" width="1.00" height="9.16" fill="#111"/>
<rect x="455.00" y="520.20" width="1.00" height="20.36" fill="#111"/>
<rect x="464.00" y="510.02" width="1.00" height="10.18" fill="#111"/>
<rect x="465.00" y="512.87" width="1.00" height="7.33" fill="#111"/>
<rect x="466.00" y="515.11" width="2.00" height="5.09" fill="#111"/>
<rect x="469.00" y="520.20" width="1.00" height="16.49" fill="#555"/>
<rect x="470.00" y="491.39" width="1.00" height="28.81" fill="#111"/>
<rect x="471.00" y="493.12" width="2.00" height="27.08" fill="#111"/>
<rect x="473.00" y="487.93" width="2.00" height="32.27" fill="#111"/>
<rect x="475.00" y="473.37" width="1.00" height="46.83" fill="#111"/>
<rect x="476.00" y="469.91" width="2.00" height="50.29" fill="#111"/>
<rect x="478.00" y="479.79" width="1.00" height="40.41" fill="#111"/>
<rect x="479.00" y="469.30" width="1.00" height="50.90" fill="#111"/>
<rect x="480.00" y="484.57" width="2.00" height="35.63" fill="#555"/>
<rect x="482.00" y="493.12" width="2.00" height="27.08" fill="#555"/>
<rect x="486.00" y="515.82" width="1.00" height="4.38" fill="#111"/>
<rect x="489.00" y="516.94" width="1.00" height="3.26" fill="#111"/>
<rect x="491.00" y="496.79" width="2.00" height="23.41" fill="#111"/>
<rect x="493.00" y="481.52" width="1.00" height="38.68" fill="#111"/>
<line x1="37.3" y1="469.3" x2="494.2" y2="469.3" stroke="#262626" stroke-width="1.3"/>
<line x1="40" y1="540.2" x2="494.2" y2="540.2" stroke="#262626" stroke-width="1.3"/>
<line x1="44.4" y1="469.3" x2="44.4" y2="540.2" stroke="#262626" stroke-width="1.3"/>
<line x1="494.2" y1="469.3" x2="494.2" y2="540.2" stroke="#262626" stroke-width="1.3"/>
<line x1="37.3" y1="520.2" x2="494.2" y2="520.2" stroke="#262626" stroke-width="1.2"/>
<line x1="40" y1="540.56" x2="44.4" y2="540.56" stroke="#262626" stroke-width="1"/>
<line x1="40" y1="530.38" x2="44.4" y2="530.38" stroke="#262626" stroke-width="1"/>
<line x1="40" y1="520.20" x2="44.4" y2="520.20" stroke="#262626" stroke-width="1"/>
<line x1="40" y1="510.02" x2="44.4" y2="510.02" stroke="#262626" stroke-width="1"/>
<line x1="40" y1="499.84" x2="44.4" y2="499.84" stroke="#262626" stroke-width="1"/>
<line x1="40" y1="489.66" x2="44.4" y2="489.66" stroke="#262626" stroke-width="1"/>
<line x1="40" y1="479.48" x2="44.4" y2="479.48" stroke="#262626" stroke-width="1"/>
<line x1="40" y1="469.30" x2="44.4" y2="469.30" stroke="#262626" stroke-width="1"/>
<text x="35.6" y="473.2" font-family="Liberation Sans, sans-serif" font-size="10.2" text-anchor="end" fill="#333">5</text>
<text x="35.6" y="524.0" font-family="Liberation Sans, sans-serif" font-size="10.2" text-anchor="end" fill="#333">0</text>
<text transform="translate(23.5,501.9) rotate(-90)" font-family="Liberation Sans, sans-serif" font-size="11.8" font-weight="bold" text-anchor="middle" fill="#111" textLength="26.5" lengthAdjust="spacingAndGlyphs">HPC7</text>
<text x="6" y="463.4" font-family="Liberation Sans, sans-serif" font-size="11.5" font-weight="bold" letter-spacing="0.25" fill="#111">DNaseI</text>
<rect x="1" y="563.2" width="517.6" height="187.79999999999995" fill="none" stroke="#333" stroke-width="1.3"/>
<line x1="518.6" y1="563.2" x2="518.6" y2="751" stroke="#444" stroke-width="1.8"/>
<text x="0.6" y="559.6" font-family="Liberation Sans, sans-serif" font-size="17.8" font-weight="bold" fill="#000">D</text>
<rect x="48.00" y="632.80" width="1.00" height="10.18" fill="#111"/>
<rect x="52.00" y="621.60" width="1.00" height="11.20" fill="#111"/>
<rect x="53.00" y="625.67" width="1.00" height="7.13" fill="#111"/>
<rect x="54.00" y="628.73" width="1.00" height="4.07" fill="#111"/>
<rect x="55.00" y="630.76" width="1.00" height="2.04" fill="#111"/>
<rect x="56.00" y="632.29" width="7.00" height="0.51" fill="#111"/>
<rect x="74.00" y="624.66" width="1.00" height="8.14" fill="#111"/>
<rect x="75.00" y="625.67" width="1.00" height="7.13" fill="#111"/>
<rect x="81.00" y="623.64" width="2.00" height="9.16" fill="#111"/>
<rect x="83.00" y="610.40" width="1.00" height="22.40" fill="#111"/>
<rect x="84.00" y="614.48" width="1.00" height="18.32" fill="#111"/>
<rect x="85.00" y="618.55" width="2.00" height="14.25" fill="#111"/>
<rect x="94.00" y="632.80" width="1.00" height="3.05" fill="#111"/>
<rect x="107.00" y="628.73" width="4.00" height="4.07" fill="#111"/>
<rect x="124.00" y="627.71" width="1.00" height="5.09" fill="#111"/>
<rect x="125.00" y="632.80" width="1.00" height="2.04" fill="#111"/>
<rect x="127.00" y="631.78" width="1.00" height="1.02" fill="#111"/>
<rect x="132.00" y="632.80" width="1.00" height="2.04" fill="#111"/>
<rect x="133.00" y="632.80" width="1.00" height="3.05" fill="#111"/>
<rect x="135.00" y="632.80" width="1.00" height="5.09" fill="#111"/>
<rect x="145.00" y="628.73" width="3.00" height="4.07" fill="#111"/>
<rect x="148.00" y="626.69" width="3.00" height="6.11" fill="#111"/>
<rect x="152.00" y="632.80" width="1.00" height="4.07" fill="#111"/>
<rect x="153.00" y="632.80" width="1.00" height="4.07" fill="#111"/>
<rect x="159.00" y="629.75" width="3.00" height="3.05" fill="#111"/>
<rect x="162.00" y="627.71" width="1.00" height="5.09" fill="#111"/>
<rect x="163.00" y="623.13" width="1.00" height="9.67" fill="#111"/>
<rect x="165.00" y="629.75" width="1.00" height="3.05" fill="#111"/>
<rect x="166.00" y="626.69" width="1.00" height="6.11" fill="#111"/>
<rect x="168.00" y="629.75" width="1.00" height="3.05" fill="#111"/>
<rect x="169.00" y="632.80" width="1.00" height="3.05" fill="#111"/>
<rect x="170.00" y="632.80" width="1.00" height="5.09" fill="#111"/>
<rect x="172.00" y="632.80" width="1.00" height="5.09" fill="#111"/>
<rect x="173.00" y="632.80" width="1.00" height="5.09" fill="#111"/>
<rect x="174.00" y="632.80" width="1.00" height="6.11" fill="#111"/>
<rect x="175.00" y="632.80" width="1.00" height="5.09" fill="#111"/>
<rect x="177.00" y="632.80" width="1.00" height="5.09" fill="#111"/>
<rect x="182.00" y="632.80" width="1.00" height="4.07" fill="#111"/>
<rect x="183.00" y="632.80" width="1.00" height="10.18" fill="#111"/>
<rect x="184.00" y="632.80" width="1.00" height="14.46" fill="#111"/>
<rect x="193.00" y="632.80" width="1.00" height="4.07" fill="#111"/>
<rect x="195.00" y="632.80" width="1.00" height="2.04" fill="#111"/>
<rect x="196.00" y="632.80" width="1.00" height="2.04" fill="#111"/>
<rect x="198.00" y="632.80" width="1.00" height="3.05" fill="#111"/>
<rect x="203.00" y="632.80" width="1.00" height="8.14" fill="#111"/>
<rect x="227.00" y="632.80" width="1.00" height="3.05" fill="#111"/>
<rect x="229.00" y="632.80" width="1.00" height="3.05" fill="#111"/>
<rect x="233.00" y="630.76" width="1.00" height="2.04" fill="#111"/>
<rect x="235.00" y="628.73" width="1.00" height="4.07" fill="#111"/>
<rect x="237.00" y="632.80" width="1.00" height="3.05" fill="#111"/>
<rect x="238.00" y="627.71" width="1.00" height="5.09" fill="#111"/>
<rect x="240.00" y="624.66" width="1.00" height="8.14" fill="#111"/>
<rect x="241.00" y="629.75" width="1.00" height="3.05" fill="#111"/>
<rect x="243.00" y="628.73" width="1.00" height="4.07" fill="#111"/>
<rect x="245.00" y="629.75" width="1.00" height="3.05" fill="#111"/>
<rect x="246.00" y="629.75" width="1.00" height="3.05" fill="#111"/>
<rect x="259.00" y="632.80" width="1.00" height="4.07" fill="#111"/>
<rect x="260.00" y="632.80" width="1.00" height="3.05" fill="#111"/>
<rect x="265.00" y="632.80" width="1.00" height="10.18" fill="#111"/>
<rect x="272.00" y="632.80" width="1.00" height="4.07" fill="#111"/>
<rect x="273.00" y="632.80" width="1.00" height="4.07" fill="#111"/>
<rect x="275.00" y="632.80" width="1.00" height="5.09" fill="#111"/>
<rect x="276.00" y="627.71" width="1.00" height="5.09" fill="#111"/>
<rect x="277.00" y="630.76" width="1.00" height="2.04" fill="#111"/>
<rect x="279.00" y="631.27" width="1.00" height="1.53" fill="#111"/>
<rect x="282.00" y="632.80" width="1.00" height="2.04" fill="#111"/>
<rect x="287.00" y="632.80" width="1.00" height="8.14" fill="#111"/>
<rect x="294.00" y="625.67" width="1.00" height="7.13" fill="#111"/>
<rect x="296.00" y="630.76" width="1.00" height="2.04" fill="#111"/>
<rect x="297.00" y="629.75" width="1.00" height="3.05" fill="#111"/>
<rect x="298.00" y="628.73" width="1.00" height="4.07" fill="#111"/>
<rect x="300.00" y="623.64" width="1.00" height="9.16" fill="#111"/>
<rect x="301.00" y="624.66" width="1.00" height="8.14" fill="#111"/>
<rect x="302.00" y="626.69" width="1.00" height="6.11" fill="#111"/>
<rect x="304.00" y="624.66" width="1.00" height="8.14" fill="#111"/>
<rect x="309.00" y="632.80" width="1.00" height="9.16" fill="#111"/>
<rect x="327.00" y="632.80" width="1.00" height="7.13" fill="#111"/>
<rect x="328.00" y="632.80" width="1.00" height="5.09" fill="#111"/>
<rect x="329.00" y="632.80" width="1.00" height="5.09" fill="#111"/>
<rect x="330.00" y="632.80" width="1.00" height="5.09" fill="#111"/>
<rect x="331.00" y="632.80" width="1.00" height="4.07" fill="#111"/>
<rect x="333.00" y="632.80" width="1.00" height="3.05" fill="#111"/>
<rect x="338.00" y="627.71" width="1.00" height="5.09" fill="#111"/>
<rect x="339.00" y="628.73" width="1.00" height="4.07" fill="#111"/>
<rect x="352.00" y="632.80" width="1.00" height="4.07" fill="#111"/>
<rect x="353.00" y="632.80" width="1.00" height="5.09" fill="#111"/>
<rect x="354.00" y="632.80" width="1.00" height="6.11" fill="#111"/>
<rect x="358.00" y="632.80" width="1.00" height="7.13" fill="#111"/>
<rect x="367.00" y="631.78" width="3.00" height="1.02" fill="#111"/>
<rect x="372.00" y="630.76" width="1.00" height="2.04" fill="#111"/>
<rect x="374.00" y="631.78" width="1.00" height="1.02" fill="#111"/>
<rect x="379.00" y="632.80" width="1.00" height="10.18" fill="#111"/>
<rect x="381.00" y="632.80" width="5.00" height="2.04" fill="#111"/>
<rect x="391.00" y="631.78" width="1.00" height="1.02" fill="#111"/>
<rect x="393.00" y="629.75" width="1.00" height="3.05" fill="#111"/>
<rect x="398.00" y="628.73" width="1.00" height="4.07" fill="#111"/>
<rect x="399.00" y="626.69" width="1.00" height="6.11" fill="#111"/>
<rect x="400.00" y="626.69" width="1.00" height="6.11" fill="#111"/>
<rect x="401.00" y="628.73" width="1.00" height="4.07" fill="#111"/>
<rect x="402.00" y="629.75" width="1.00" height="3.05" fill="#111"/>
<rect x="404.00" y="629.75" width="1.00" height="3.05" fill="#111"/>
<rect x="406.00" y="630.76" width="1.00" height="2.04" fill="#111"/>
<rect x="410.00" y="629.75" width="1.00" height="3.05" fill="#111"/>
<rect x="418.00" y="632.80" width="1.00" height="14.25" fill="#111"/>
<rect x="425.00" y="632.80" width="1.00" height="8.14" fill="#111"/>
<rect x="436.00" y="632.80" width="1.00" height="15.27" fill="#111"/>
<rect x="439.00" y="632.80" width="1.00" height="4.07" fill="#111"/>
<rect x="442.00" y="632.80" width="1.00" height="5.09" fill="#111"/>
<rect x="444.00" y="632.80" width="1.00" height="3.05" fill="#111"/>
<rect x="446.00" y="632.80" width="1.00" height="1.02" fill="#111"/>
<rect x="454.00" y="629.34" width="1.00" height="3.46" fill="#111"/>
<rect x="462.00" y="624.15" width="2.00" height="8.65" fill="#111"/>
<rect x="464.00" y="611.42" width="2.00" height="21.38" fill="#444"/>
<rect x="466.00" y="610.40" width="1.00" height="22.40" fill="#111"/>
<rect x="467.00" y="611.93" width="2.00" height="20.87" fill="#111"/>
<rect x="469.00" y="609.08" width="1.00" height="23.72" fill="#111"/>
<rect x="470.00" y="605.62" width="1.00" height="27.18" fill="#111"/>
<rect x="471.00" y="610.81" width="1.00" height="21.99" fill="#111"/>
<rect x="472.00" y="607.35" width="2.00" height="25.45" fill="#111"/>
<rect x="474.00" y="614.27" width="2.00" height="18.53" fill="#111"/>
<rect x="476.00" y="629.34" width="1.00" height="3.46" fill="#111"/>
<rect x="477.00" y="621.19" width="2.00" height="11.61" fill="#111"/>
<rect x="479.00" y="626.39" width="2.00" height="6.41" fill="#555"/>
<rect x="481.00" y="618.24" width="2.00" height="14.56" fill="#555"/>
<rect x="485.00" y="631.07" width="1.00" height="1.73" fill="#111"/>
<rect x="490.00" y="630.46" width="1.00" height="2.34" fill="#111"/>
<rect x="493.00" y="632.80" width="1.00" height="4.07" fill="#111"/>
<line x1="37.3" y1="581.9" x2="494.7" y2="581.9" stroke="#262626" stroke-width="1.3"/>
<line x1="40" y1="652.9" x2="494.7" y2="652.9" stroke="#262626" stroke-width="1.3"/>
<line x1="45.2" y1="581.9" x2="45.2" y2="652.9" stroke="#262626" stroke-width="1.3"/>
<line x1="494.7" y1="581.9" x2="494.7" y2="652.9" stroke="#262626" stroke-width="1.3"/>
<line x1="37.3" y1="632.8" x2="494.7" y2="632.8" stroke="#262626" stroke-width="1.2"/>
<line x1="40" y1="653.16" x2="45.2" y2="653.16" stroke="#262626" stroke-width="1"/>
<line x1="40" y1="642.98" x2="45.2" y2="642.98" stroke="#262626" stroke-width="1"/>
<line x1="40" y1="632.80" x2="45.2" y2="632.80" stroke="#262626" stroke-width="1"/>
<line x1="40" y1="622.62" x2="45.2" y2="622.62" stroke="#262626" stroke-width="1"/>
<line x1="40" y1="612.44" x2="45.2" y2="612.44" stroke="#262626" stroke-width="1"/>
<line x1="40" y1="602.26" x2="45.2" y2="602.26" stroke="#262626" stroke-width="1"/>
<line x1="40" y1="592.08" x2="45.2" y2="592.08" stroke="#262626" stroke-width="1"/>
<line x1="40" y1="581.90" x2="45.2" y2="581.90" stroke="#262626" stroke-width="1"/>
<text x="35.6" y="585.8" font-family="Liberation Sans, sans-serif" font-size="10.2" text-anchor="end" fill="#333">5</text>
<text x="35.6" y="636.6" font-family="Liberation Sans, sans-serif" font-size="10.2" text-anchor="end" fill="#333">0</text>
<text transform="translate(23.5,608.2) rotate(-90)" font-family="Liberation Sans, sans-serif" font-size="11.8" font-weight="bold" text-anchor="middle" fill="#111">BW5147</text>
<text x="6" y="576.7" font-family="Liberation Sans, sans-serif" font-size="11.5" font-weight="bold" letter-spacing="0.25" fill="#111">ChIP H3Ac</text>
<rect x="45.00" y="726.10" width="1.00" height="6.10" fill="#111"/>
<rect x="48.00" y="720.00" width="1.00" height="6.10" fill="#111"/>
<rect x="53.00" y="726.10" width="1.00" height="3.05" fill="#111"/>
<rect x="60.00" y="720.00" width="1.00" height="6.10" fill="#111"/>
<rect x="61.00" y="717.97" width="1.00" height="8.13" fill="#111"/>
<rect x="73.00" y="726.10" width="1.00" height="3.05" fill="#111"/>
<rect x="74.00" y="724.07" width="1.00" height="2.03" fill="#111"/>
<rect x="82.00" y="712.89" width="1.00" height="13.21" fill="#111"/>
<rect x="83.00" y="720.00" width="1.00" height="6.10" fill="#111"/>
<rect x="84.00" y="715.94" width="1.00" height="10.16" fill="#111"/>
<rect x="85.00" y="714.92" width="1.00" height="11.18" fill="#111"/>
<rect x="86.00" y="708.83" width="1.00" height="17.27" fill="#111"/>
<rect x="87.00" y="723.05" width="1.00" height="3.05" fill="#111"/>
<rect x="95.00" y="712.89" width="1.00" height="13.21" fill="#111"/>
<rect x="107.00" y="717.97" width="1.00" height="8.13" fill="#111"/>
<rect x="108.00" y="722.04" width="1.00" height="4.06" fill="#111"/>
<rect x="122.00" y="722.04" width="1.00" height="4.06" fill="#111"/>
<rect x="125.00" y="726.10" width="1.00" height="2.03" fill="#111"/>
<rect x="128.00" y="726.10" width="1.00" height="8.13" fill="#111"/>
<rect x="129.00" y="726.10" width="1.00" height="9.14" fill="#111"/>
<rect x="132.00" y="726.10" width="1.00" height="4.06" fill="#111"/>
<rect x="133.00" y="726.10" width="1.00" height="3.05" fill="#111"/>
<rect x="137.00" y="708.12" width="1.00" height="17.98" fill="#111"/>
<rect x="138.00" y="721.02" width="1.00" height="5.08" fill="#111"/>
<rect x="145.00" y="726.10" width="1.00" height="7.11" fill="#111"/>
<rect x="148.00" y="726.10" width="1.00" height="4.06" fill="#111"/>
<rect x="149.00" y="726.10" width="1.00" height="4.06" fill="#111"/>
<rect x="152.00" y="726.10" width="1.00" height="4.06" fill="#111"/>
<rect x="159.00" y="726.10" width="1.00" height="4.06" fill="#555"/>
<rect x="161.00" y="726.10" width="1.00" height="5.08" fill="#111"/>
<rect x="162.00" y="726.10" width="1.00" height="3.05" fill="#555"/>
<rect x="164.00" y="726.10" width="1.00" height="5.08" fill="#555"/>
<rect x="166.00" y="726.10" width="1.00" height="4.06" fill="#111"/>
<rect x="167.00" y="726.10" width="1.00" height="5.69" fill="#555"/>
<rect x="169.00" y="726.10" width="1.00" height="4.06" fill="#555"/>
<rect x="170.00" y="726.10" width="1.00" height="5.69" fill="#111"/>
<rect x="172.00" y="726.10" width="1.00" height="5.08" fill="#555"/>
<rect x="173.00" y="726.10" width="1.00" height="4.06" fill="#111"/>
<rect x="176.00" y="718.48" width="1.00" height="7.62" fill="#111"/>
<rect x="184.00" y="726.10" width="1.00" height="8.84" fill="#111"/>
<rect x="193.00" y="725.08" width="1.00" height="1.02" fill="#111"/>
<rect x="194.00" y="724.07" width="1.00" height="2.03" fill="#111"/>
<rect x="195.00" y="723.05" width="1.00" height="3.05" fill="#111"/>
<rect x="196.00" y="722.34" width="1.00" height="3.76" fill="#111"/>
<rect x="197.00" y="723.05" width="1.00" height="3.05" fill="#111"/>
<rect x="198.00" y="724.58" width="1.00" height="1.52" fill="#111"/>
<rect x="201.00" y="712.89" width="1.00" height="13.21" fill="#111"/>
<rect x="205.00" y="726.10" width="1.00" height="8.84" fill="#111"/>
<rect x="219.00" y="726.10" width="1.00" height="5.69" fill="#111"/>
<rect x="229.00" y="726.10" width="1.00" height="2.03" fill="#111"/>
<rect x="231.00" y="726.10" width="1.00" height="3.05" fill="#111"/>
<rect x="233.00" y="726.10" width="1.00" height="4.57" fill="#555"/>
<rect x="235.00" y="726.10" width="1.00" height="6.10" fill="#111"/>
<rect x="236.00" y="726.10" width="1.00" height="7.82" fill="#555"/>
<rect x="237.00" y="726.10" width="1.00" height="7.11" fill="#111"/>
<rect x="238.00" y="726.10" width="1.00" height="5.08" fill="#555"/>
<rect x="240.00" y="726.10" width="1.00" height="4.06" fill="#111"/>
<rect x="246.00" y="726.10" width="1.00" height="5.08" fill="#111"/>
<rect x="248.00" y="726.10" width="1.00" height="3.05" fill="#111"/>
<rect x="249.00" y="718.99" width="1.00" height="7.11" fill="#111"/>
<rect x="260.00" y="726.10" width="1.00" height="6.10" fill="#111"/>
<rect x="262.00" y="726.10" width="1.00" height="4.06" fill="#111"/>
<rect x="263.00" y="726.10" width="1.00" height="2.03" fill="#111"/>
<rect x="267.00" y="721.02" width="2.00" height="5.08" fill="#111"/>
<rect x="275.00" y="721.02" width="1.00" height="5.08" fill="#111"/>
<rect x="276.00" y="726.10" width="1.00" height="2.03" fill="#111"/>
<rect x="279.00" y="724.07" width="1.00" height="2.03" fill="#111"/>
<rect x="283.00" y="710.86" width="1.00" height="15.24" fill="#111"/>
<rect x="284.00" y="717.97" width="1.00" height="8.13" fill="#111"/>
<rect x="289.00" y="714.92" width="1.00" height="11.18" fill="#111"/>
<rect x="296.00" y="721.02" width="1.00" height="5.08" fill="#111"/>
<rect x="299.00" y="726.10" width="4.00" height="2.03" fill="#111"/>
<rect x="305.00" y="724.07" width="1.00" height="2.03" fill="#111"/>
<rect x="306.00" y="723.05" width="1.00" height="3.05" fill="#111"/>
<rect x="310.00" y="708.83" width="1.00" height="17.27" fill="#111"/>
<rect x="328.00" y="714.92" width="1.00" height="11.18" fill="#111"/>
<rect x="329.00" y="720.00" width="1.00" height="6.10" fill="#111"/>
<rect x="331.00" y="722.04" width="1.00" height="4.06" fill="#111"/>
<rect x="332.00" y="726.10" width="1.00" height="6.10" fill="#111"/>
<rect x="334.00" y="726.10" width="1.00" height="10.16" fill="#111"/>
<rect x="340.00" y="725.08" width="1.00" height="1.02" fill="#111"/>
<rect x="353.00" y="723.05" width="1.00" height="3.05" fill="#111"/>
<rect x="355.00" y="726.10" width="1.00" height="3.05" fill="#111"/>
<rect x="368.00" y="726.10" width="1.00" height="3.05" fill="#111"/>
<rect x="370.00" y="724.07" width="1.00" height="2.03" fill="#111"/>
<rect x="372.00" y="724.07" width="1.00" height="2.03" fill="#111"/>
<rect x="374.00" y="726.10" width="1.00" height="3.05" fill="#111"/>
<rect x="376.00" y="721.02" width="1.00" height="5.08" fill="#111"/>
<rect x="381.00" y="709.84" width="1.00" height="16.26" fill="#111"/>
<rect x="383.00" y="726.10" width="3.00" height="3.05" fill="#111"/>
<rect x="393.00" y="722.04" width="1.00" height="4.06" fill="#111"/>
<rect x="394.00" y="725.08" width="1.00" height="1.02" fill="#111"/>
<rect x="400.00" y="726.10" width="4.00" height="4.06" fill="#111"/>
<rect x="413.00" y="721.02" width="1.00" height="5.08" fill="#111"/>
<rect x="422.00" y="708.12" width="1.00" height="17.98" fill="#111"/>
<rect x="428.00" y="720.00" width="1.00" height="6.10" fill="#111"/>
<rect x="439.00" y="713.91" width="1.00" height="12.19" fill="#111"/>
<rect x="442.00" y="726.10" width="1.00" height="6.10" fill="#111"/>
<rect x="443.00" y="726.10" width="1.00" height="7.11" fill="#111"/>
<rect x="444.00" y="726.10" width="1.00" height="5.08" fill="#111"/>
<rect x="452.00" y="726.10" width="3.00" height="4.06" fill="#111"/>
<rect x="457.00" y="722.04" width="1.00" height="4.06" fill="#111"/>
<rect x="465.00" y="718.99" width="1.00" height="7.11" fill="#111"/>
<rect x="467.00" y="721.02" width="1.00" height="5.08" fill="#111"/>
<rect x="468.00" y="710.86" width="1.00" height="15.24" fill="#111"/>
<rect x="469.00" y="716.96" width="1.00" height="9.14" fill="#111"/>
<rect x="470.00" y="715.94" width="1.00" height="10.16" fill="#111"/>
<rect x="472.00" y="720.00" width="1.00" height="6.10" fill="#111"/>
<rect x="473.00" y="714.92" width="1.00" height="11.18" fill="#111"/>
<rect x="474.00" y="723.05" width="1.00" height="3.05" fill="#111"/>
<rect x="476.00" y="726.10" width="1.00" height="2.03" fill="#111"/>
<rect x="478.00" y="726.10" width="1.00" height="2.03" fill="#111"/>
<rect x="482.00" y="722.04" width="1.00" height="4.06" fill="#111"/>
<rect x="483.00" y="723.05" width="1.00" height="3.05" fill="#111"/>
<rect x="487.00" y="724.07" width="1.00" height="2.03" fill="#111"/>
<rect x="490.00" y="712.89" width="1.00" height="13.21" fill="#111"/>
<line x1="37.3" y1="675.3" x2="494.7" y2="675.3" stroke="#262626" stroke-width="1.3"/>
<line x1="40" y1="746.5" x2="494.7" y2="746.5" stroke="#262626" stroke-width="1.3"/>
<line x1="45" y1="675.3" x2="45" y2="746.5" stroke="#262626" stroke-width="1.3"/>
<line x1="494.7" y1="675.3" x2="494.7" y2="746.5" stroke="#262626" stroke-width="1.3"/>
<line x1="37.3" y1="726.1" x2="494.7" y2="726.1" stroke="#262626" stroke-width="1.2"/>
<line x1="40" y1="746.42" x2="45" y2="746.42" stroke="#262626" stroke-width="1"/>
<line x1="40" y1="736.26" x2="45" y2="736.26" stroke="#262626" stroke-width="1"/>
<line x1="40" y1="726.10" x2="45" y2="726.10" stroke="#262626" stroke-width="1"/>
<line x1="40" y1="715.94" x2="45" y2="715.94" stroke="#262626" stroke-width="1"/>
<line x1="40" y1="705.78" x2="45" y2="705.78" stroke="#262626" stroke-width="1"/>
<line x1="40" y1="695.62" x2="45" y2="695.62" stroke="#262626" stroke-width="1"/>
<line x1="40" y1="685.46" x2="45" y2="685.46" stroke="#262626" stroke-width="1"/>
<line x1="40" y1="675.30" x2="45" y2="675.30" stroke="#262626" stroke-width="1"/>
<text x="35.6" y="679.2" font-family="Liberation Sans, sans-serif" font-size="10.2" text-anchor="end" fill="#333">5</text>
<text x="35.6" y="729.9" font-family="Liberation Sans, sans-serif" font-size="10.2" text-anchor="end" fill="#333">0</text>
<text transform="translate(23.5,709.8) rotate(-90)" font-family="Liberation Sans, sans-serif" font-size="11.8" font-weight="bold" text-anchor="middle" fill="#111">BW5147</text>
<text x="6" y="667.8" font-family="Liberation Sans, sans-serif" font-size="11.5" font-weight="bold" letter-spacing="0.25" fill="#111">DNaseI</text>
</svg>
</body></html>
